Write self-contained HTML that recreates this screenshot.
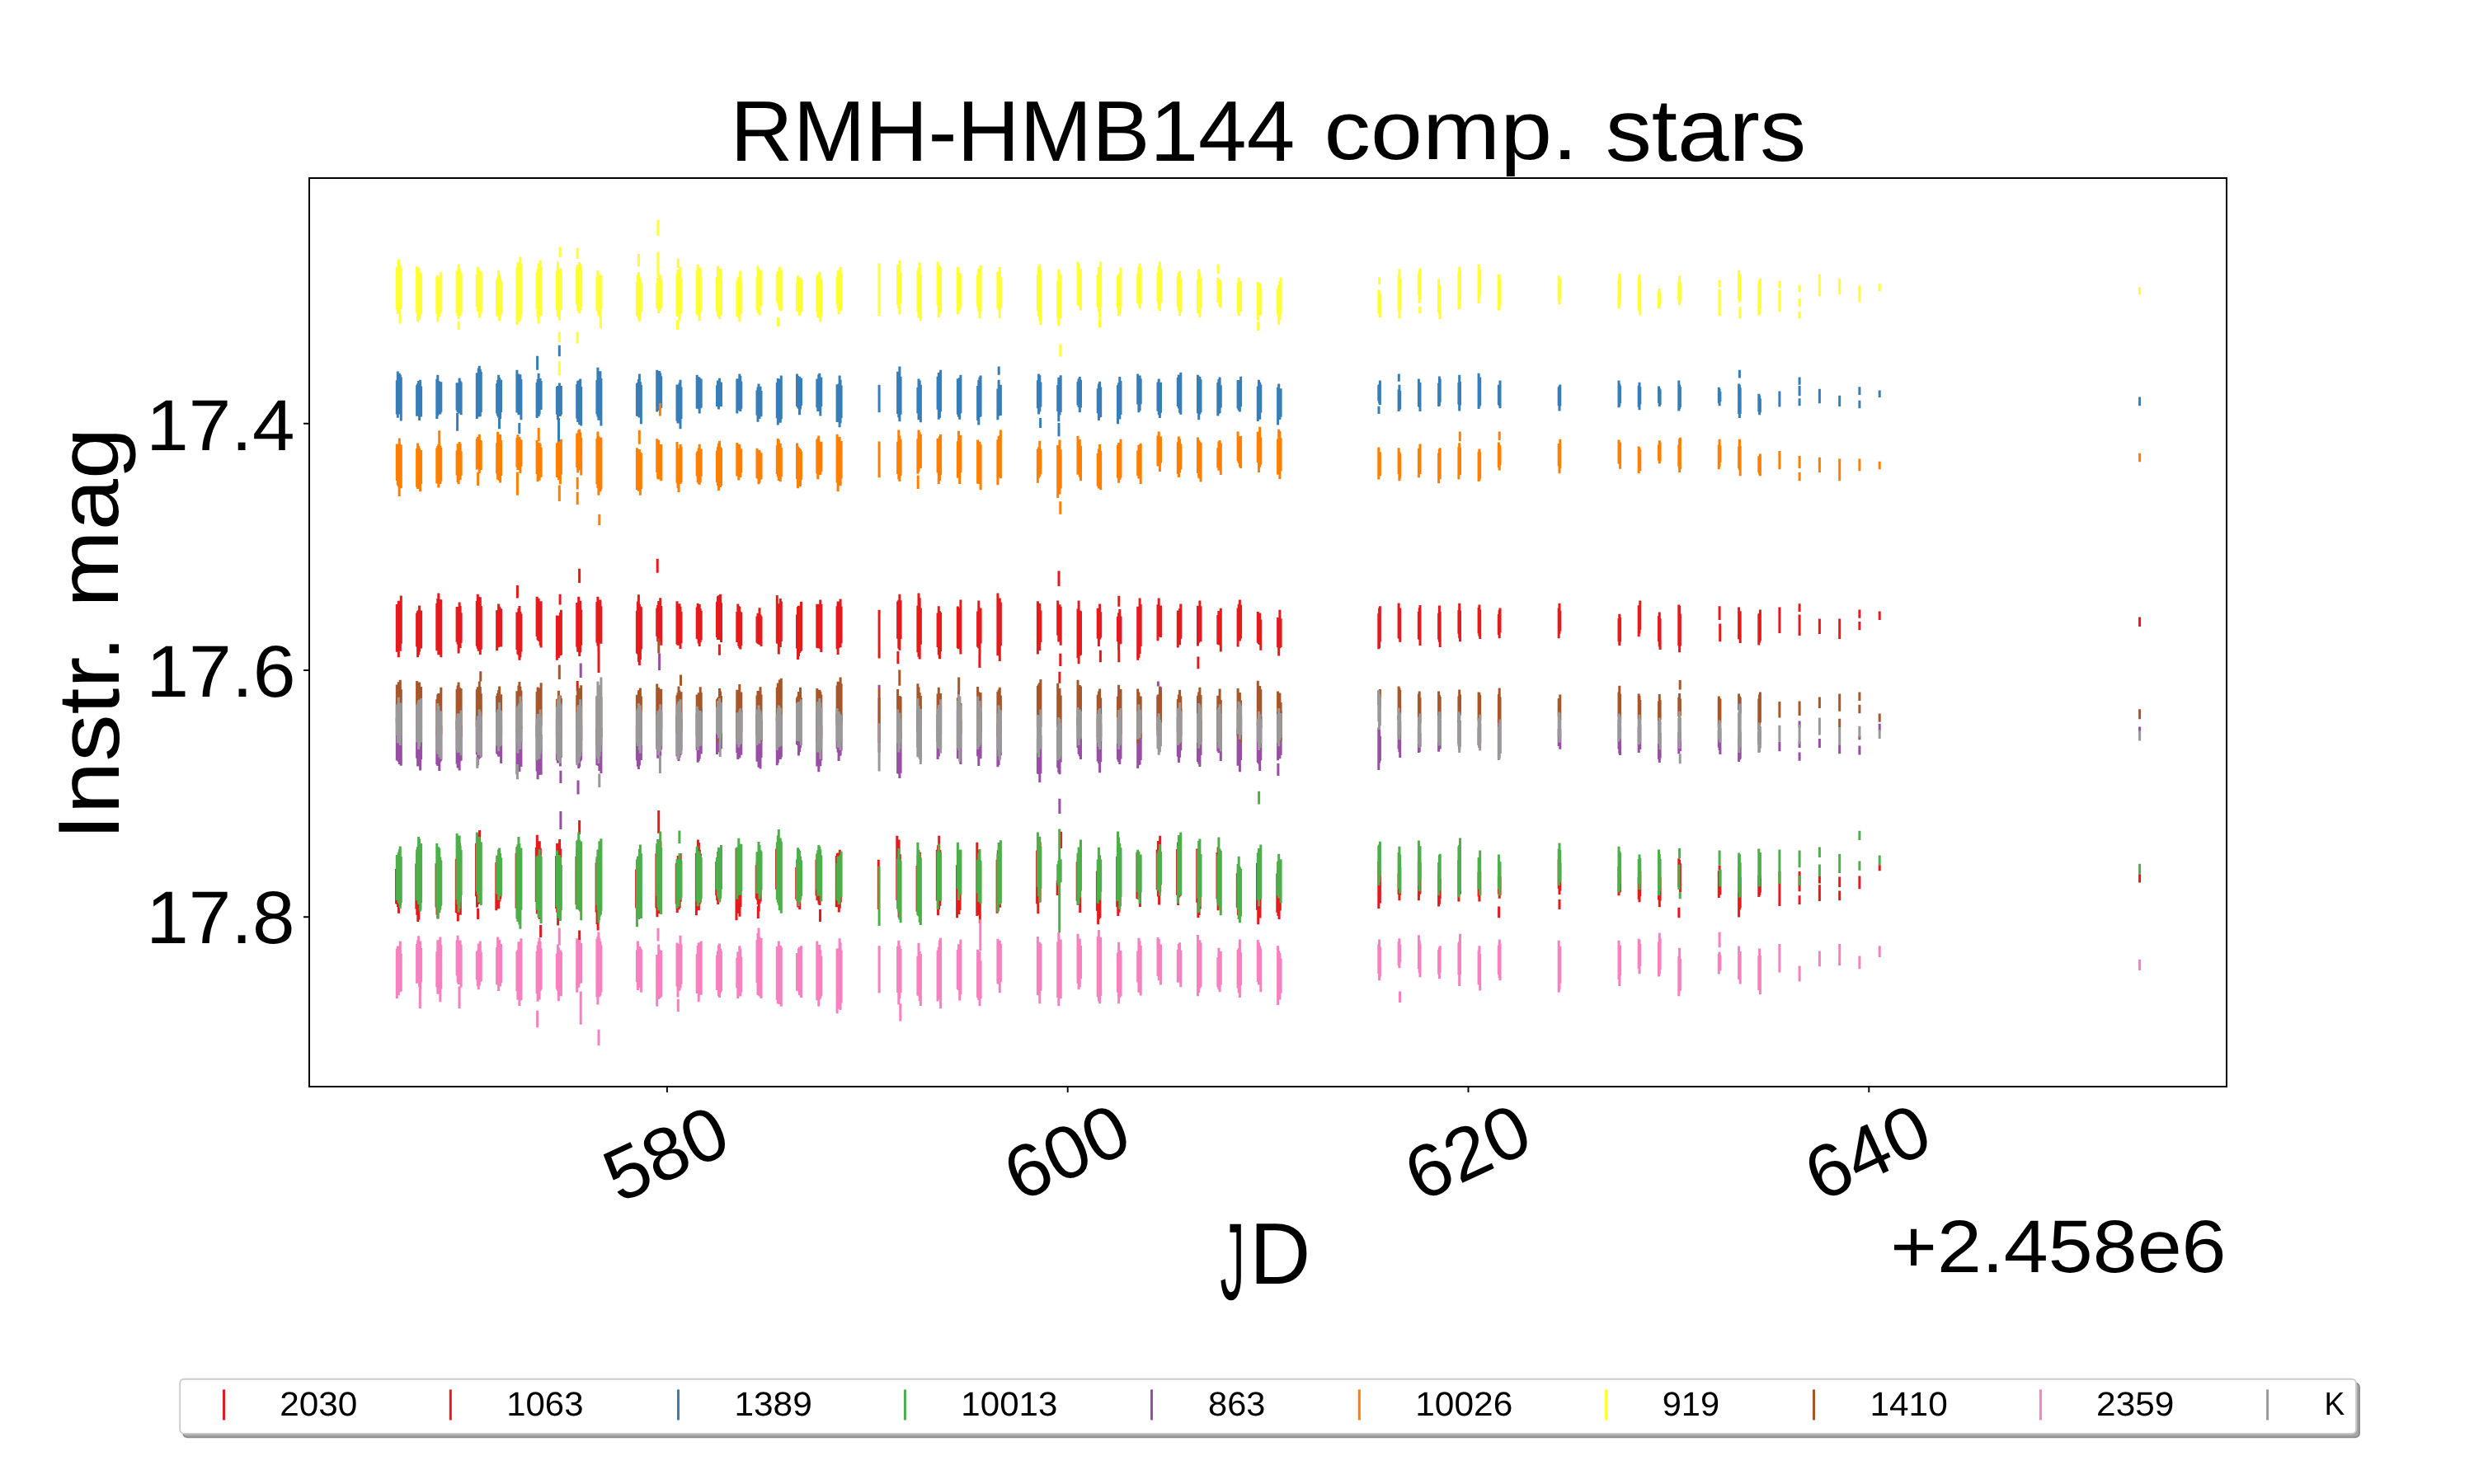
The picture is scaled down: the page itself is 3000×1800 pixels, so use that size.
<!DOCTYPE html>
<html><head><meta charset="utf-8"><title>RMH-HMB144 comp. stars</title>
<style>
html,body{margin:0;padding:0;background:#fff;width:3000px;height:1800px;overflow:hidden}
svg{display:block;position:absolute;left:0;top:0;will-change:transform}
text{font-family:"Liberation Sans",sans-serif;fill:#000;text-rendering:geometricPrecision}
</style></head><body>
<svg width="3000" height="1800" viewBox="0 0 3000 1800">
<rect x="0" y="0" width="3000" height="1800" fill="#fff"/>
<path d="M481.3 733.1V790.7M482.3 733.9V784.2M483.3 728.8V797.2M484.3 732.8V786.5M485.3 732.8V789.7M486.3 722.5V780.7M505.6 743.6V784.5M506.6 741.0V797.2M507.6 740.3V794.3M508.6 734.6V790.6M509.6 743.2V786.1M510.6 740.5V786.4M529.8 731.7V789.3M530.8 726.1V787.9M531.8 719.6V794.2M532.8 727.0V786.1M533.8 734.1V791.7M534.8 727.3V797.2M554.1 735.9V778.8M555.1 736.7V781.4M556.1 737.6V792.4M557.1 730.5V783.7M558.1 735.1V786.0M559.1 743.3V779.7M578.3 729.0V783.8M579.3 720.8V786.8M580.3 723.8V789.7M581.3 730.4V782.6M582.3 724.3V794.1M583.3 735.0V787.8M602.6 740.3V789.2M603.6 742.0V780.2M604.6 732.4V785.3M605.6 735.8V784.6M606.6 737.9V782.6M607.6 738.5V784.6M626.9 742.5V788.0M627.9 745.3V793.6M628.9 738.1V794.7M629.9 734.9V800.8M630.9 741.9V797.2M631.9 744.5V790.5M627.4 709.9V725.6M651.1 723.7V772.1M652.1 729.2V776.3M653.1 725.8V777.2M654.1 733.4V778.1M655.1 733.5V782.8M656.1 729.3V785.6M675.4 746.4V800.8M676.4 746.8V789.5M677.4 749.5V798.0M678.4 748.3V790.9M679.4 742.9V795.1M680.4 739.7V794.5M679.1 720.8V733.4M699.7 731.0V784.8M700.7 736.7V790.7M701.7 723.7V788.9M702.7 728.8V796.0M703.7 728.7V791.2M704.7 739.6V782.8M702.6 689.7V707.0M723.9 730.1V779.4M724.9 723.7V783.6M725.9 733.9V789.9M726.9 730.9V779.7M727.9 727.5V777.3M728.9 735.3V780.7M726.0 788.7V816.1M772.4 740.8V792.6M773.4 729.5V793.5M774.4 721.3V802.7M775.4 732.7V806.9M776.4 735.4V800.1M777.4 736.3V787.4M796.7 737.5V771.7M797.7 734.0V778.3M798.7 728.9V776.0M799.7 730.0V778.2M800.7 725.2V776.0M801.7 735.0V782.7M797.2 677.8V694.8M821.0 729.3V781.5M822.0 734.8V782.7M823.0 735.6V780.6M824.0 732.3V780.3M825.0 735.8V787.0M826.0 742.0V780.3M845.2 736.6V774.7M846.2 731.7V775.6M847.2 736.0V780.6M848.2 733.0V783.9M849.2 738.3V779.0M850.2 740.9V776.2M869.5 729.7V772.9M870.5 723.2V776.1M871.5 722.3V776.1M872.5 723.5V769.7M873.5 720.8V771.2M874.5 731.2V779.0M872.4 781.4V794.8M893.8 741.9V778.9M894.8 732.4V778.5M895.8 735.1V783.7M896.8 736.1V785.9M897.8 742.1V787.5M898.8 742.7V783.0M918.0 747.4V779.6M919.0 743.8V780.7M920.0 745.3V781.0M921.0 737.3V782.0M922.0 745.4V775.5M923.0 747.6V783.9M942.3 722.0V780.6M943.3 732.3V780.7M944.3 734.0V793.6M945.3 733.6V782.4M946.3 725.9V785.1M947.3 729.5V778.1M966.5 745.4V786.6M967.5 736.1V800.1M968.5 734.8V796.0M969.5 740.9V791.9M970.5 740.0V790.2M971.5 729.8V789.5M990.8 732.7V785.8M991.8 739.3V786.3M992.8 737.4V782.2M993.8 732.7V784.1M994.8 727.6V786.9M995.8 733.0V791.1M1015.1 735.3V787.2M1016.1 729.5V794.1M1017.1 734.9V786.1M1018.1 735.0V785.1M1019.1 726.4V785.2M1020.1 735.5V780.3M700.2 825.9V838.5M1066.1 739.7V798.4M1088.6 729.5V774.8M1089.8 727.7V786.4M1090.9 720.8V788.7M1092.1 728.3V775.1M1088.9 789.9V805.2M1112.9 734.8V791.2M1114.0 719.6V796.8M1115.2 725.3V799.6M1116.4 737.6V781.7M1137.1 743.4V785.0M1138.3 735.3V794.4M1139.5 741.3V799.2M1140.6 742.9V790.3M1161.4 735.5V786.3M1162.5 738.4V787.3M1163.7 737.6V785.5M1164.9 727.6V793.6M1185.6 741.4V784.8M1186.8 728.5V786.3M1188.0 737.8V794.8M1189.1 737.5V780.4M1187.9 794.8V810.1M1209.9 719.6V795.3M1211.1 728.4V791.2M1212.3 725.6V802.1M1213.4 730.6V783.3M1258.4 729.3V793.6M1259.6 735.0V784.0M1260.8 732.1V788.9M1261.9 740.6V779.1M1282.7 728.5V770.7M1283.8 736.0V778.4M1285.0 733.2V774.6M1286.2 735.7V782.7M1284.0 692.4V711.1M1285.8 792.8V808.1M1284.9 814.7V828.8M1307.0 738.6V798.3M1308.1 728.5V805.2M1309.3 740.4V795.5M1310.5 741.3V794.4M1331.2 737.7V774.6M1332.4 739.6V783.9M1333.6 732.4V775.5M1334.7 742.3V773.4M1334.4 788.7V803.3M1355.5 747.8V778.2M1356.6 743.2V788.7M1357.8 739.0V781.6M1359.0 747.5V780.9M1356.8 722.7V735.8M1356.8 788.7V803.3M1379.7 735.7V800.8M1380.9 737.7V797.9M1382.1 725.6V793.0M1383.2 733.0V784.1M1404.0 733.3V777.3M1405.2 725.6V772.0M1406.4 734.6V771.3M1407.5 734.4V772.9M1428.3 740.5V785.6M1429.4 741.3V776.4M1430.6 738.1V782.3M1431.8 732.4V774.8M1452.5 734.8V783.4M1453.7 736.7V779.7M1454.9 728.5V774.0M1456.0 735.2V778.3M1452.9 796.5V811.3M1476.8 746.0V781.6M1477.9 741.0V782.1M1479.1 747.1V782.6M1480.3 737.8V790.4M1501.1 737.6V784.4M1502.2 732.8V774.6M1503.4 727.6V777.6M1504.6 733.7V774.6M1525.3 742.1V779.7M1526.5 743.9V781.2M1527.7 743.5V782.0M1528.8 751.4V788.7M1549.6 748.9V785.2M1550.7 749.4V795.5M1551.9 739.7V786.3M1553.1 750.2V785.0M1671.8 744.3V787.3M1672.6 737.4V786.1M1673.4 735.3V778.5M1696.1 731.5V774.2M1696.9 736.9V774.7M1697.7 737.9V778.8M1720.4 742.0V775.2M1721.2 737.3V776.1M1722.0 734.1V783.1M1744.6 743.8V775.5M1745.4 734.6V778.7M1746.2 742.1V785.1M1768.9 740.0V768.8M1769.7 731.7V774.3M1770.5 740.6V778.3M1793.1 736.9V768.4M1793.9 733.4V771.7M1794.7 739.5V775.1M1817.4 744.9V770.0M1818.2 740.1V774.2M1819.0 737.5V767.2M1890.2 737.5V774.2M1891.0 731.7V768.8M1891.8 740.8V765.4M1963.0 750.3V778.3M1963.8 744.8V783.1M1964.6 748.8V778.5M1987.2 734.2V772.2M1988.0 735.3V768.6M1988.8 728.6V763.7M2011.5 747.1V778.2M2012.3 742.6V784.4M2013.1 750.3V788.0M2035.8 733.4V783.2M2036.6 734.7V791.2M2037.4 744.6V783.6M2085.1 735.3V752.1M2085.7 756.5V778.3M2108.6 736.6V775.2M2109.4 741.2V775.4M2110.2 741.5V780.0M2132.8 744.4V782.4M2133.6 744.0V779.5M2134.4 739.5V776.9M2157.9 736.6V768.1M2182.1 745.5V771.0M2182.1 732.2V741.9M2206.4 750.4V769.1M2230.7 750.4V775.1M2254.9 739.5V749.7M2254.9 754.0V764.2M2279.2 741.4V752.1M2594.6 748.5V760.1" stroke="#e41a1c" stroke-width="3" fill="none"/>
<path d="M480.5 1054.1V1096.3M481.5 1045.8V1096.8M482.5 1049.2V1100.0M483.5 1038.6V1107.8M484.5 1046.2V1097.4M485.5 1047.1V1098.2M504.8 1047.4V1102.4M505.8 1034.0V1109.8M506.8 1026.9V1118.0M507.8 1042.0V1115.6M508.8 1034.2V1102.0M509.8 1038.3V1103.4M529.0 1047.3V1100.5M530.0 1049.3V1109.5M531.0 1039.0V1114.6M532.0 1034.9V1103.7M533.0 1049.0V1104.3M534.0 1049.6V1099.3M553.3 1042.0V1107.0M554.3 1039.4V1107.7M555.3 1025.8V1117.5M556.3 1026.4V1107.3M557.3 1022.8V1103.3M558.3 1040.2V1109.8M577.5 1022.7V1087.3M578.5 1012.7V1100.6M579.5 1019.9V1097.0M580.5 1010.6V1096.1M581.5 1007.1V1085.1M582.5 1023.2V1081.8M601.8 1046.1V1104.2M602.8 1048.7V1092.4M603.8 1046.1V1096.8M604.8 1040.5V1102.3M605.8 1052.0V1093.4M606.8 1048.6V1090.5M626.1 1034.8V1101.8M627.1 1026.9V1087.7M628.1 1031.9V1093.8M629.1 1029.9V1094.1M630.1 1034.4V1094.1M631.1 1033.6V1094.4M650.3 1027.7V1094.1M651.3 1012.7V1108.4M652.3 1020.4V1101.7M653.3 1020.8V1098.1M654.3 1020.2V1115.1M655.3 1028.7V1103.4M674.6 1037.9V1102.1M675.6 1022.9V1106.8M676.6 1022.7V1122.4M677.6 1031.5V1109.2M678.6 1018.1V1114.4M679.6 1029.4V1100.1M698.9 1039.1V1097.0M699.9 1028.5V1101.5M700.9 1032.0V1095.2M701.9 1027.9V1098.3M702.9 1033.3V1093.1M703.9 1021.6V1105.4M723.1 1046.6V1106.5M724.1 1041.9V1120.9M725.1 1039.0V1128.5M726.1 1045.3V1116.3M727.1 1029.3V1110.4M728.1 1038.9V1109.2M771.6 1054.6V1101.6M772.6 1042.5V1105.6M773.6 1042.5V1102.2M774.6 1043.6V1115.1M775.6 1045.8V1103.7M776.6 1036.6V1101.5M798.7 982.9V1010.8M795.9 1035.2V1101.4M796.9 1025.0V1112.2M797.9 1028.1V1107.4M798.9 1026.7V1108.3M799.9 1033.9V1099.1M800.9 1020.4V1101.5M820.2 1047.3V1096.4M821.2 1046.3V1107.1M822.2 1037.9V1102.4M823.2 1040.6V1103.3M824.2 1038.7V1101.1M825.2 1035.0V1093.8M844.4 1034.8V1110.3M845.4 1029.1V1095.7M846.4 1018.5V1103.3M847.4 1021.9V1104.3M848.4 1030.8V1096.4M849.4 1035.5V1093.9M868.7 1045.1V1086.3M869.7 1042.6V1092.3M870.7 1039.4V1096.9M871.7 1045.7V1093.3M872.7 1036.9V1093.5M873.7 1048.9V1083.8M893.0 1028.8V1116.3M894.0 1035.4V1107.8M895.0 1031.2V1106.4M896.0 1041.7V1107.7M897.0 1034.4V1111.7M898.0 1036.6V1100.0M917.2 1049.3V1089.7M918.2 1045.4V1091.8M919.2 1045.0V1097.0M920.2 1033.0V1105.4M921.2 1043.3V1095.8M922.2 1042.0V1093.4M941.5 1029.6V1078.8M942.5 1025.3V1086.6M943.5 1021.5V1090.8M944.5 1017.9V1088.0M945.5 1030.4V1085.0M946.5 1024.8V1079.2M965.7 1052.0V1090.8M966.7 1043.9V1091.0M967.7 1048.4V1100.6M968.7 1049.5V1097.9M969.7 1040.3V1103.0M970.7 1050.6V1090.7M990.0 1042.8V1086.5M991.0 1036.9V1092.2M992.0 1046.0V1089.4M993.0 1045.0V1096.6M994.0 1041.8V1098.1M995.0 1046.5V1088.4M1014.3 1038.0V1100.3M1015.3 1035.1V1094.3M1016.3 1034.5V1098.6M1017.3 1035.7V1106.6M1018.3 1030.7V1101.8M1019.3 1046.7V1094.4M579.6 1101.8V1115.1M655.6 1121.9V1136.9M702.6 995.0V1012.0M702.6 1128.5V1146.7M919.3 1099.3V1113.9M994.5 1103.0V1118.0M702.7 1128.6V1146.8M1065.3 1042.8V1103.0M1087.8 1013.7V1091.9M1089.0 1021.3V1102.6M1090.1 1018.5V1112.7M1091.3 1036.3V1092.8M1112.1 1049.9V1105.8M1113.2 1037.0V1104.8M1114.4 1042.8V1111.2M1115.6 1033.7V1115.1M1136.3 1030.7V1092.5M1137.5 1025.2V1110.3M1138.7 1013.7V1103.1M1139.8 1031.0V1098.8M1160.6 1049.3V1113.2M1161.7 1039.4V1107.1M1162.9 1033.7V1108.9M1164.1 1047.6V1103.9M1184.8 1021.7V1111.1M1186.0 1036.2V1109.7M1187.2 1031.0V1104.7M1188.3 1043.4V1120.0M1209.1 1042.8V1107.8M1210.3 1031.3V1105.0M1211.5 1042.0V1096.9M1212.6 1042.4V1100.7M1257.6 1031.6V1096.3M1258.8 1034.4V1108.3M1260.0 1028.6V1094.4M1261.1 1021.6V1094.2M1286.6 1008.8V1029.0M1282.2 1067.8V1086.0M1306.2 1045.4V1092.8M1307.3 1043.1V1097.9M1308.5 1029.7V1096.5M1309.7 1045.8V1107.1M1330.4 1056.6V1104.7M1331.6 1045.2V1121.2M1332.8 1039.8V1114.7M1333.9 1050.9V1113.3M1354.7 1038.7V1100.3M1355.8 1020.4V1111.0M1357.0 1034.2V1106.7M1358.2 1034.9V1099.2M1378.9 1033.8V1090.1M1380.1 1040.2V1090.8M1381.3 1043.9V1091.0M1382.4 1042.7V1100.1M1403.2 1030.5V1078.9M1404.4 1019.9V1087.4M1405.6 1027.2V1097.6M1406.7 1013.7V1081.7M1427.5 1030.1V1085.8M1428.6 1021.6V1098.1M1429.8 1033.6V1088.5M1431.0 1034.2V1086.7M1451.7 1029.6V1094.7M1452.9 1041.1V1113.2M1454.1 1039.8V1109.9M1455.2 1041.5V1102.4M1476.0 1034.0V1090.6M1477.1 1027.6V1104.2M1478.3 1036.2V1101.5M1479.5 1034.4V1092.3M1500.3 1059.2V1100.9M1501.4 1056.5V1110.3M1502.6 1050.7V1105.6M1503.8 1061.9V1098.8M1524.5 1046.8V1103.8M1525.7 1050.6V1121.2M1526.9 1050.9V1113.3M1528.0 1036.6V1113.5M1548.8 1059.4V1106.7M1549.9 1051.2V1111.1M1551.1 1050.5V1115.1M1552.3 1047.8V1104.6M1671.8 1044.9V1101.9M1672.6 1048.6V1094.7M1673.4 1055.7V1095.6M1696.1 1059.3V1085.1M1696.9 1053.1V1092.2M1697.7 1052.2V1085.4M1720.4 1045.2V1092.2M1721.2 1040.1V1085.0M1722.0 1046.6V1083.8M1744.6 1057.0V1099.5M1745.4 1064.2V1096.8M1746.2 1065.4V1090.3M1768.9 1043.2V1093.4M1769.7 1040.7V1084.1M1770.5 1032.8V1084.4M1793.1 1057.9V1087.4M1793.9 1052.2V1093.4M1794.7 1057.5V1086.1M1817.4 1062.2V1084.4M1818.2 1057.0V1089.8M1819.0 1062.9V1085.9M1817.6 1099.5V1113.3M1890.2 1042.5V1077.7M1891.0 1045.6V1084.9M1891.8 1047.0V1080.6M1891.0 1091.0V1103.1M1963.0 1051.0V1086.2M1963.8 1051.9V1083.1M1964.6 1058.6V1081.8M1987.2 1064.0V1090.8M1988.0 1062.9V1094.2M1988.8 1057.0V1087.2M2011.5 1057.0V1091.6M2012.3 1058.5V1100.2M2013.1 1063.8V1092.6M2035.8 1041.3V1076.0M2036.6 1042.9V1076.6M2037.4 1047.2V1082.5M2035.9 1100.7V1113.3M2084.3 1056.2V1089.1M2085.1 1049.8V1084.4M2085.9 1054.7V1085.6M2108.6 1051.0V1112.4M2109.4 1054.2V1103.4M2110.2 1063.8V1101.2M2132.8 1062.2V1088.1M2133.6 1057.0V1086.0M2134.4 1062.1V1082.6M2157.9 1057.0V1099.0M2182.1 1057.0V1081.3M2182.1 1086.2V1097.1M2206.4 1063.1V1071.6M2206.4 1073.3V1093.0M2230.7 1063.6V1076.0M2230.7 1080.6V1092.2M2254.9 1062.6V1078.2M2279.2 1049.3V1056.3M2594.6 1060.2V1070.4" stroke="#e41a1c" stroke-width="3" fill="none"/>
<path d="M481.3 461.2V502.4M482.3 450.6V506.8M483.3 456.1V502.5M484.3 452.8V501.2M485.3 454.6V502.0M486.3 457.4V510.5M505.6 467.2V504.7M506.6 465.2V502.7M507.6 462.0V504.8M508.6 465.1V510.0M509.6 460.8V503.4M510.6 468.5V505.6M529.8 459.7V508.1M530.8 454.7V504.4M531.8 462.0V500.3M532.8 462.7V501.5M533.8 464.5V502.6M534.8 463.3V499.7M554.1 464.2V497.8M555.1 465.6V500.1M556.1 465.4V500.4M557.1 458.4V501.6M558.1 462.0V497.3M559.1 463.4V503.2M554.6 500.8V522.7M578.3 452.2V508.1M579.3 455.4V502.8M580.3 446.5V501.6M581.3 443.8V505.6M582.3 448.0V504.9M583.3 450.9V499.9M602.6 465.1V501.5M603.6 460.9V504.5M604.6 454.7V506.8M605.6 457.9V506.8M606.6 462.8V508.1M607.6 460.5V500.0M605.5 506.9V520.2M626.9 448.7V500.5M627.9 455.7V499.2M628.9 453.6V503.3M629.9 456.3V499.0M630.9 454.3V499.2M631.9 459.9V509.3M629.8 512.9V526.3M651.1 463.9V506.9M652.1 460.1V497.5M653.1 452.8V505.2M654.1 459.4V502.6M655.1 459.1V496.8M656.1 462.0V496.9M651.6 431.7V448.7M675.4 469.1V502.7M676.4 468.1V509.3M677.4 472.0V504.6M678.4 464.4V501.8M679.4 468.4V505.0M680.4 468.0V503.1M678.3 418.8V432.2M677.5 506.9V538.4M699.7 465.9V507.7M700.7 462.0V512.0M701.7 461.6V511.9M702.7 461.2V515.1M703.7 459.6V512.2M704.7 469.1V516.6M723.9 460.9V502.6M724.9 445.7V505.5M725.9 455.0V509.7M726.9 450.3V508.4M727.9 450.2V504.9M728.9 459.0V516.6M772.4 464.7V504.7M773.4 464.3V504.8M774.4 460.0V505.4M775.4 453.5V506.6M776.4 463.3V505.2M777.4 467.1V514.2M796.7 448.7V499.6M797.7 458.1V494.6M798.7 453.2V498.1M799.7 449.9V494.4M800.7 452.6V495.5M801.7 456.2V495.0M821.0 466.4V510.8M822.0 469.9V513.5M823.0 469.3V511.4M824.0 464.2V512.2M825.0 460.8V520.2M826.0 469.6V507.9M845.2 454.7V495.8M846.2 457.0V495.2M847.2 457.2V496.3M848.2 458.1V501.5M849.2 461.5V495.2M850.2 459.4V494.4M869.5 467.3V492.9M870.5 461.6V492.1M871.5 463.7V496.4M872.5 458.8V491.3M873.5 466.0V491.8M874.5 463.6V493.0M893.8 459.4V501.5M894.8 459.2V492.4M895.8 461.7V497.7M896.8 453.5V493.8M897.8 456.0V498.9M898.8 462.7V495.8M918.0 473.5V503.7M919.0 469.5V511.7M920.0 465.6V507.3M921.0 472.7V508.0M922.0 468.7V503.2M923.0 474.0V505.2M942.3 464.0V507.2M943.3 459.0V515.4M944.3 459.7V511.0M945.3 460.4V505.6M946.3 459.7V512.8M947.3 455.4V508.3M966.5 453.5V492.8M967.5 456.1V494.3M968.5 460.3V495.8M969.5 456.7V503.2M970.5 460.5V496.4M971.5 458.6V492.0M990.8 459.4V494.3M991.8 461.0V499.0M992.8 454.2V497.4M993.8 452.8V496.5M994.8 459.2V504.5M995.8 457.5V493.1M1015.1 466.3V512.0M1016.1 466.3V511.1M1017.1 465.4V511.7M1018.1 455.4V518.3M1019.1 460.7V513.3M1020.1 467.4V507.1M1066.1 466.8V500.3M1088.6 450.7V502.1M1089.8 453.0V506.5M1090.9 444.5V511.2M1092.1 456.7V502.8M1112.9 470.1V501.2M1114.0 459.6V509.2M1115.2 461.4V506.6M1116.4 466.7V512.2M1137.1 456.8V496.8M1138.3 452.1V508.8M1139.5 455.3V506.7M1140.6 448.7V499.2M1161.4 459.3V502.7M1162.5 459.7V505.7M1163.7 457.9V508.8M1164.9 454.7V501.2M1185.6 468.1V510.1M1186.8 461.0V515.4M1188.0 457.5V506.0M1189.1 455.4V505.2M1209.9 471.4V509.3M1211.1 460.8V504.4M1212.3 467.0V503.1M1213.4 466.8V503.9M1211.2 444.5V454.7M1258.4 461.2V495.2M1259.6 453.5V502.5M1260.8 455.2V499.5M1261.9 463.6V493.4M1261.6 506.9V519.0M1282.7 467.0V499.0M1283.8 457.8V511.2M1285.0 460.5V503.4M1286.2 455.2V500.1M1284.0 512.9V529.2M1307.0 462.7V491.4M1308.1 459.3V494.0M1309.3 457.1V500.3M1310.5 460.8V494.4M1331.2 471.2V501.3M1332.4 465.4V510.0M1333.6 462.7V506.4M1334.7 469.4V506.0M1355.5 467.3V514.2M1356.6 464.3V508.1M1357.8 457.1V508.4M1359.0 461.9V502.9M1379.7 453.5V490.5M1380.9 459.0V500.3M1382.1 455.4V498.1M1383.2 459.2V490.3M1404.0 463.6V498.8M1405.2 459.6V503.2M1406.4 467.6V506.9M1407.5 463.7V500.7M1428.3 457.8V493.0M1429.4 454.6V495.4M1430.6 455.5V500.8M1431.8 451.8V502.8M1452.5 454.7V501.2M1453.7 456.5V509.3M1454.9 457.0V502.5M1456.0 460.2V500.2M1476.8 464.0V504.5M1477.9 460.0V502.0M1479.1 457.6V500.9M1480.3 467.3V494.6M1501.1 461.1V495.6M1502.2 463.5V497.7M1503.4 461.0V499.6M1504.6 456.7V493.2M1525.3 468.6V511.0M1526.5 460.8V506.6M1527.7 463.7V508.7M1528.8 466.6V500.4M1549.6 469.7V515.4M1550.7 465.6V508.1M1551.9 471.2V508.9M1553.1 471.3V505.8M1671.8 467.0V486.6M1672.6 466.2V489.6M1673.4 461.5V491.1M1672.0 492.8V502.0M1696.1 472.4V499.1M1696.9 466.8V497.3M1697.7 474.1V496.2M1696.3 453.5V462.7M1720.4 459.6V492.9M1721.2 464.3V493.9M1722.0 464.1V499.1M1744.6 464.8V493.1M1745.4 456.4V492.3M1746.2 459.6V487.8M1768.9 464.1V490.4M1769.7 454.7V498.4M1770.5 462.9V491.4M1793.1 452.8V496.0M1793.9 459.5V493.6M1794.7 457.6V491.7M1817.4 466.8V490.9M1818.2 467.1V492.5M1819.0 461.5V495.2M1890.2 469.5V492.2M1891.0 468.3V498.4M1891.8 466.4V492.6M1963.0 461.5V494.3M1963.8 465.4V492.8M1964.6 467.7V488.9M1987.2 467.7V493.8M1988.0 463.7V497.2M1988.8 469.3V490.5M2011.5 468.5V489.0M2012.3 471.1V493.1M2013.1 472.5V491.0M2035.8 461.5V498.4M2036.6 466.4V496.3M2037.4 469.0V494.1M2084.3 469.8V489.1M2085.1 471.8V492.3M2085.9 474.9V487.2M2108.6 465.6V502.1M2109.4 466.7V506.9M2110.2 470.2V502.0M2109.4 448.7V458.4M2132.8 477.8V499.6M2133.6 479.5V503.2M2134.4 483.4V500.3M2157.9 474.6V493.5M2182.1 468.1V480.2M2182.1 457.6V466.8M2182.1 483.3V492.3M2206.4 471.7V489.2M2230.7 479.7V493.1M2254.9 469.3V479.0M2254.9 485.8V495.2M2279.2 473.4V482.1M2594.6 481.4V492.3" stroke="#377eb8" stroke-width="3" fill="none"/>
<path d="M481.3 1036.9V1092.1M482.3 1038.6V1089.1M483.3 1033.9V1095.1M484.3 1030.3V1096.7M485.3 1026.6V1101.8M486.3 1039.1V1094.8M505.6 1030.6V1092.2M506.6 1029.9V1091.8M507.6 1014.9V1097.1M508.6 1017.5V1094.2M509.6 1024.8V1105.4M510.6 1023.1V1095.1M529.8 1022.9V1101.6M530.8 1027.7V1113.9M531.8 1027.3V1102.9M532.8 1029.0V1107.2M533.8 1039.5V1103.2M534.8 1043.4V1098.0M554.1 1010.8V1091.0M555.1 1028.0V1096.9M556.1 1014.3V1106.6M557.1 1013.4V1102.0M558.1 1025.8V1094.5M559.1 1031.0V1086.1M578.3 1009.6V1080.8M579.3 1017.5V1084.9M580.3 1016.3V1093.9M581.3 1015.1V1094.8M582.3 1025.3V1086.7M583.3 1021.3V1098.1M602.6 1037.6V1084.6M603.6 1039.6V1080.1M604.6 1030.6V1092.1M605.6 1028.5V1085.1M606.6 1035.1V1085.6M607.6 1040.4V1086.8M626.9 1028.0V1114.6M627.9 1024.3V1118.1M628.9 1014.9V1113.1M629.9 1023.1V1121.6M630.9 1031.4V1126.8M631.9 1028.4V1103.8M651.1 1039.1V1103.3M652.1 1037.4V1104.1M653.1 1040.1V1113.0M654.1 1030.2V1109.8M655.1 1036.8V1104.5M656.1 1039.0V1120.0M675.4 1031.4V1099.9M676.4 1044.7V1111.0M677.4 1042.6V1114.0M678.4 1037.0V1104.6M679.4 1040.1V1117.1M680.4 1049.1V1104.2M699.7 1019.7V1103.1M700.7 1018.4V1102.1M701.7 1009.6V1103.1M702.7 1018.4V1104.2M703.7 1020.9V1099.8M704.7 1020.6V1116.3M723.9 1039.3V1097.7M724.9 1030.5V1104.4M725.9 1034.5V1119.2M726.9 1020.2V1112.1M727.9 1033.5V1109.7M728.9 1017.3V1104.7M772.4 1042.7V1124.3M773.4 1038.8V1107.5M774.4 1038.5V1114.8M775.4 1029.7V1107.9M776.4 1024.6V1111.8M777.4 1035.2V1113.9M796.7 1023.1V1086.9M797.7 1017.9V1100.3M798.7 1024.0V1104.6M799.7 1019.1V1101.8M800.7 1008.4V1096.6M801.7 1027.9V1109.0M821.0 1042.0V1101.8M822.0 1043.5V1096.1M823.0 1042.1V1099.8M824.0 1035.0V1090.5M825.0 1042.7V1091.5M826.0 1043.7V1089.0M845.2 1026.6V1093.2M846.2 1033.9V1099.3M847.2 1032.2V1087.2M848.2 1033.9V1087.9M849.2 1037.0V1095.2M850.2 1040.2V1090.1M869.5 1039.9V1079.0M870.5 1032.9V1086.4M871.5 1028.1V1089.8M872.5 1032.5V1094.5M873.5 1034.9V1089.9M874.5 1024.9V1078.8M893.8 1027.6V1090.8M894.8 1029.1V1077.7M895.8 1016.8V1085.9M896.8 1023.4V1082.9M897.8 1023.8V1085.6M898.8 1023.7V1081.3M918.0 1033.4V1083.8M919.0 1033.0V1082.4M920.0 1021.0V1080.4M921.0 1024.9V1090.8M922.0 1031.1V1086.4M923.0 1032.6V1079.4M942.3 1021.6V1091.2M943.3 1013.6V1094.8M944.3 1005.9V1097.7M945.3 1017.2V1104.3M946.3 1016.4V1102.5M947.3 1020.8V1107.8M966.5 1042.2V1093.0M967.5 1028.3V1092.4M968.5 1030.0V1099.3M969.5 1032.1V1094.6M970.5 1038.8V1091.8M971.5 1043.4V1087.0M990.8 1035.3V1079.4M991.8 1031.3V1086.8M992.8 1024.9V1085.6M993.8 1026.7V1082.4M994.8 1030.2V1086.8M995.8 1037.5V1093.3M1015.1 1046.9V1091.6M1016.1 1038.6V1092.8M1017.1 1038.9V1096.9M1018.1 1041.8V1095.1M1019.1 1037.1V1086.3M1020.1 1032.6V1088.0M823.9 1007.6V1022.9M1066.1 1050.8V1122.9M1088.6 1041.4V1102.3M1089.8 1029.0V1106.0M1090.9 1042.3V1115.5M1092.1 1044.1V1119.2M1112.9 1021.7V1110.0M1114.0 1030.8V1111.2M1115.2 1035.3V1118.7M1116.4 1040.6V1121.9M1137.1 1032.5V1103.0M1138.3 1023.4V1092.3M1139.5 1037.0V1091.3M1140.6 1033.5V1092.8M1161.4 1021.7V1078.1M1162.5 1031.2V1092.1M1163.7 1030.8V1085.1M1164.9 1030.6V1085.6M1185.6 1042.8V1083.6M1186.8 1034.6V1093.9M1188.0 1029.7V1093.5M1189.1 1044.2V1096.2M1209.9 1035.6V1106.6M1211.1 1022.1V1092.3M1212.3 1030.4V1097.3M1213.4 1019.3V1095.5M1258.4 1009.6V1075.7M1259.6 1021.0V1087.3M1260.8 1014.8V1094.5M1261.9 1026.7V1078.0M1284.7 1005.4V1130.9M1282.7 1048.3V1070.7M1283.8 1044.1V1073.9M1285.0 1043.7V1069.2M1286.2 1042.3V1070.2M1307.0 1034.7V1098.1M1308.1 1027.6V1095.9M1309.3 1029.8V1088.7M1310.5 1018.5V1080.4M1331.2 1042.5V1095.7M1332.4 1027.8V1084.8M1333.6 1037.3V1091.4M1334.7 1042.6V1082.1M1355.5 1008.4V1093.0M1356.6 1015.5V1089.4M1357.8 1023.1V1103.0M1359.0 1028.3V1087.7M1379.7 1030.7V1082.1M1380.9 1032.7V1090.8M1382.1 1038.5V1096.2M1383.2 1036.4V1082.5M1404.0 1034.5V1080.5M1405.2 1031.3V1077.0M1406.4 1024.1V1086.5M1407.5 1033.0V1073.3M1428.3 1025.7V1095.7M1429.4 1013.1V1086.6M1430.6 1022.5V1083.2M1431.8 1009.6V1085.9M1452.5 1031.3V1089.8M1453.7 1020.1V1107.1M1454.9 1017.6V1099.6M1456.0 1035.9V1087.9M1476.8 1036.4V1094.7M1477.9 1015.6V1098.7M1479.1 1029.6V1101.7M1480.3 1031.8V1110.3M1501.1 1047.9V1102.9M1502.2 1038.7V1114.9M1503.4 1051.4V1119.2M1504.6 1053.8V1111.5M1525.3 1034.2V1091.4M1526.5 1029.1V1099.3M1527.7 1031.2V1089.2M1528.8 1024.6V1090.8M1549.6 1044.8V1086.5M1550.7 1035.8V1089.3M1551.9 1045.8V1089.4M1553.1 1042.3V1095.2M1526.6 959.8V975.6M1671.8 1025.7V1074.0M1672.6 1024.4V1070.0M1673.4 1020.7V1063.1M1696.1 1033.9V1077.1M1696.9 1026.7V1078.2M1697.7 1036.4V1083.7M1720.4 1019.4V1074.0M1721.2 1028.2V1081.3M1722.0 1026.3V1067.1M1744.6 1045.9V1086.2M1745.4 1037.3V1078.6M1746.2 1035.7V1080.2M1768.9 1026.6V1088.6M1769.7 1025.0V1083.9M1770.5 1016.5V1080.8M1793.1 1040.3V1078.4M1793.9 1040.0V1077.2M1794.7 1031.6V1086.2M1817.4 1036.4V1078.0M1818.2 1044.7V1086.2M1819.0 1045.3V1079.2M1890.2 1029.7V1074.0M1891.0 1022.6V1070.4M1891.8 1031.0V1069.6M1963.0 1026.7V1082.5M1963.8 1032.5V1080.0M1964.6 1034.2V1071.5M1987.2 1041.9V1071.7M1988.0 1036.4V1078.9M1988.8 1041.0V1072.0M2011.5 1030.4V1086.2M2012.3 1035.9V1081.0M2013.1 1042.1V1077.3M2036.6 1028.7V1041.3M2035.9 1048.6V1078.9M2037.2 1082.5V1090.3M2085.1 1031.6V1049.8M2085.7 1054.6V1075.2M2108.6 1034.5V1081.9M2109.4 1036.2V1088.6M2110.2 1046.3V1076.6M2132.8 1029.6V1068.6M2133.6 1034.9V1075.2M2134.4 1033.9V1065.1M2157.9 1030.4V1072.3M2182.1 1031.6V1052.2M2182.1 1061.9V1074.0M2206.4 1027.4V1040.1M2206.4 1048.6V1063.1M2230.7 1035.7V1059.0M2254.9 1044.4V1055.8M2254.9 1007.8V1019.0M2279.2 1037.6V1049.3M2594.6 1047.8V1060.2" stroke="#4daf4a" stroke-width="3" fill="none"/>
<path d="M481.3 870.9V922.5M482.3 866.5V918.5M483.3 866.3V924.1M484.3 868.5V927.1M485.3 868.1V923.2M486.3 862.8V928.8M505.6 876.2V919.7M506.6 873.9V929.5M507.6 868.4V927.9M508.6 870.9V926.6M509.6 871.9V934.4M510.6 880.5V921.3M529.8 881.2V927.3M530.8 874.1V929.0M531.8 876.9V926.7M532.8 869.1V935.1M533.8 879.3V924.2M534.8 880.5V922.6M554.1 873.9V926.5M555.1 878.4V931.6M556.1 868.4V924.4M557.1 876.8V934.4M558.1 877.5V923.2M559.1 880.3V922.6M578.3 869.2V915.3M579.3 874.4V928.3M580.3 864.8V921.1M581.3 869.1V919.7M582.3 862.3V919.2M583.3 875.8V917.8M602.6 859.9V914.2M603.6 869.7V915.1M604.6 862.8V917.8M605.6 869.6V916.5M606.6 866.7V913.3M607.6 872.7V925.9M626.9 885.0V939.2M627.9 876.7V933.6M628.9 880.7V932.0M629.9 883.1V935.9M630.9 873.2V928.7M631.9 880.6V929.9M651.1 879.3V935.4M652.1 887.6V945.3M653.1 889.1V940.1M654.1 884.9V934.3M655.1 882.8V936.2M656.1 890.9V939.7M675.4 872.2V922.2M676.4 871.1V925.6M677.4 863.5V921.0M678.4 866.2V918.4M679.4 867.1V929.5M680.4 872.7V918.7M699.7 865.9V925.3M700.7 871.7V922.2M701.7 875.9V931.9M702.7 867.8V930.3M703.7 874.3V923.5M704.7 880.3V921.7M723.9 882.9V928.3M724.9 882.1V926.1M725.9 872.0V929.1M726.9 880.4V935.1M727.9 882.3V932.4M728.9 882.8V938.0M772.4 880.2V922.3M773.4 872.8V929.8M774.4 878.3V933.1M775.4 867.1V928.4M776.4 875.9V920.7M777.4 880.7V921.9M796.7 866.9V907.4M797.7 866.3V919.8M798.7 855.9V914.4M799.7 853.8V909.2M800.7 862.4V917.0M801.7 862.9V909.2M821.0 867.4V917.5M822.0 860.0V910.4M823.0 857.0V923.0M824.0 864.0V918.9M825.0 867.4V916.0M826.0 871.6V910.1M845.2 865.6V910.1M846.2 870.7V924.7M847.2 865.6V922.9M848.2 869.2V920.6M849.2 866.5V914.6M850.2 858.7V914.6M869.5 863.4V914.9M870.5 851.9V911.5M871.5 860.1V910.3M872.5 848.9V912.3M873.5 855.3V908.9M874.5 861.5V907.9M893.8 861.3V912.9M894.8 855.0V921.0M895.8 863.7V916.6M896.8 866.2V919.4M897.8 865.8V914.9M898.8 861.7V915.7M918.0 866.4V923.8M919.0 877.5V921.1M920.0 872.8V930.8M921.0 876.9V926.2M922.0 877.8V932.4M923.0 873.5V918.9M942.3 870.7V928.3M943.3 862.3V925.4M944.3 872.9V919.5M945.3 866.4V918.5M946.3 871.3V921.0M947.3 869.9V918.6M966.5 863.0V903.0M967.5 850.6V904.1M968.5 855.3V916.6M969.5 857.7V912.0M970.5 854.8V907.2M971.5 859.4V902.7M990.8 870.3V929.4M991.8 873.6V924.1M992.8 880.9V936.3M993.8 872.6V929.0M994.8 882.3V929.2M995.8 880.6V922.3M1015.1 865.1V907.9M1016.1 862.6V912.6M1017.1 860.0V923.0M1018.1 857.0V917.1M1019.1 860.3V916.4M1020.1 866.6V910.4M679.9 934.8V950.1M679.9 984.1V1005.9M704.2 804.6V822.0M701.0 946.5V963.5M799.6 792.4V813.0M1066.1 846.5V912.5M1088.6 886.4V938.3M1089.8 881.6V938.8M1090.9 878.1V944.1M1092.1 887.8V937.8M1112.9 861.9V906.9M1114.0 861.1V917.9M1115.2 857.9V912.0M1116.4 855.0V921.0M1137.1 865.9V921.0M1138.3 865.3V917.6M1139.5 863.3V910.7M1140.6 855.0V908.6M1161.4 861.1V920.3M1162.5 863.0V917.8M1163.7 863.9V915.7M1164.9 873.4V927.1M1185.6 869.5V917.3M1186.8 866.9V929.0M1188.0 865.9V917.6M1189.1 863.0V920.3M1209.9 878.6V930.2M1211.1 864.2V928.1M1212.3 872.8V920.0M1213.4 873.8V916.3M1258.4 896.1V938.4M1259.6 882.9V939.0M1260.8 887.8V948.9M1261.9 891.8V938.3M1282.7 885.9V931.5M1283.8 873.2V937.2M1285.0 881.8V939.2M1286.2 881.1V924.4M1307.0 870.1V907.0M1308.1 855.0V914.7M1309.3 860.0V917.2M1310.5 864.1V921.0M1331.2 871.3V923.6M1332.4 874.3V926.0M1333.6 876.7V937.3M1334.7 877.9V924.2M1355.5 868.7V921.5M1356.6 867.2V924.1M1357.8 867.4V927.1M1359.0 861.1V920.6M1379.7 873.6V931.9M1380.9 876.3V928.0M1382.1 868.5V927.5M1383.2 865.9V922.1M1404.0 844.9V892.5M1405.2 842.9V899.2M1406.4 842.3V888.9M1407.5 833.2V885.0M1428.3 870.6V917.7M1429.4 869.2V925.1M1430.6 870.8V918.8M1431.8 859.1V910.3M1452.5 878.0V924.1M1453.7 864.0V926.5M1454.9 871.6V930.0M1456.0 873.3V915.9M1476.8 857.0V911.2M1477.9 864.5V913.2M1479.1 867.6V911.6M1480.3 864.1V923.0M1501.1 883.4V928.7M1502.2 876.3V925.0M1503.4 874.1V936.3M1504.6 870.3V922.1M1525.3 876.1V925.0M1526.5 871.0V926.6M1527.7 872.5V935.1M1528.8 869.1V922.2M1549.6 863.2V922.2M1550.7 856.2V912.7M1551.9 860.4V920.2M1553.1 862.3V916.1M1066.1 830.8V834.9M1284.9 968.8V987.0M1404.4 826.4V832.5M1549.9 925.9V940.9M1671.8 882.6V934.1M1672.6 885.2V925.5M1673.4 892.8V922.7M1696.1 868.1V908.6M1696.9 873.4V912.2M1697.7 874.9V919.0M1720.4 882.6V912.9M1721.2 886.0V912.2M1722.0 889.3V906.1M1744.6 877.6V911.7M1745.4 874.7V906.1M1746.2 872.9V908.5M1768.9 872.9V901.9M1769.7 876.1V909.3M1770.5 876.8V904.7M1793.1 882.7V904.0M1793.9 880.0V906.9M1794.7 877.8V901.4M1817.4 872.9V919.0M1818.2 875.9V913.0M1819.0 877.2V913.9M1890.2 884.0V905.0M1891.0 877.8V904.4M1891.8 883.7V908.8M1963.0 872.9V908.5M1963.8 879.3V914.1M1964.6 880.9V915.9M1987.2 881.8V912.9M1988.0 872.9V906.4M1988.8 879.2V908.9M2011.5 886.3V921.1M2012.3 882.6V925.1M2013.1 889.0V919.5M2035.8 888.1V914.2M2036.6 882.6V910.2M2037.4 887.0V910.9M2084.3 885.8V906.7M2085.1 877.8V909.9M2085.9 883.1V914.9M2108.6 894.7V923.9M2109.4 892.1V921.2M2110.2 887.5V920.4M2132.8 886.9V903.2M2133.6 882.6V906.9M2134.4 885.4V903.3M2157.9 899.6V911.2M2182.1 874.6V882.6M2182.1 899.6V906.9M2182.1 912.5V922.7M2206.4 896.0V906.9M2230.7 903.2V914.2M2254.9 892.3V897.2M2254.9 904.5V915.4M2279.2 877.8V886.3M2594.6 881.4V887.5" stroke="#984ea3" stroke-width="3" fill="none"/>
<path d="M481.3 538.6V582.9M482.3 540.1V588.6M483.3 538.8V590.2M484.3 531.5V583.5M485.3 539.1V585.6M486.3 539.4V592.2M484.2 589.8V601.9M505.6 544.0V590.8M506.6 537.6V593.1M507.6 541.0V592.7M508.6 543.9V587.2M509.6 546.7V596.3M510.6 545.9V587.0M529.8 543.6V586.5M530.8 541.0V581.2M531.8 538.7V591.5M532.8 536.4V583.1M533.8 540.5V586.9M534.8 542.9V583.8M532.7 522.3V537.6M554.1 546.6V576.5M555.1 538.2V585.0M556.1 542.5V587.3M557.1 535.9V581.7M558.1 538.0V582.2M559.1 547.2V576.9M578.3 532.2V569.4M579.3 529.8V568.3M580.3 532.6V566.3M581.3 526.7V574.0M582.3 534.1V568.8M583.3 534.4V569.9M579.6 572.8V589.0M602.6 537.2V574.5M603.6 523.8V581.7M604.6 527.5V578.1M605.6 531.6V583.0M606.6 527.0V585.4M607.6 534.1V576.9M626.9 530.9V566.5M627.9 527.2V570.1M628.9 530.4V567.1M629.9 529.9V569.3M630.9 533.0V574.0M631.9 533.8V565.7M627.4 572.8V600.7M651.1 534.0V575.1M652.1 539.2V584.2M653.1 540.1V576.1M654.1 536.8V582.8M655.1 538.6V578.9M656.1 543.1V578.7M653.2 518.9V535.2M675.4 537.7V578.9M676.4 536.7V578.8M677.4 535.6V582.3M678.4 536.1V578.8M679.4 535.9V587.3M680.4 532.8V575.6M678.3 588.6V608.0M699.7 525.6V567.0M700.7 530.7V573.6M701.7 522.1V570.2M702.7 520.6V569.2M703.7 524.5V570.3M704.7 531.0V576.4M700.2 578.9V593.4M700.2 597.0V612.1M723.9 531.9V587.0M724.9 523.5V592.1M725.9 528.9V600.7M726.9 535.0V587.6M727.9 531.9V596.2M728.9 530.6V593.6M726.8 623.7V637.1M772.4 543.2V594.3M773.4 548.7V591.2M774.4 551.6V595.7M775.4 544.9V595.3M776.4 548.8V600.7M777.4 549.5V592.9M775.3 521.8V538.8M796.7 532.3V572.9M797.7 540.2V580.8M798.7 533.7V581.6M799.7 540.4V580.1M800.7 540.1V574.2M801.7 538.9V583.2M800.4 489.1V504.4M821.0 535.9V585.8M822.0 546.9V591.8M823.0 543.9V597.0M824.0 544.7V587.0M825.0 539.1V586.9M826.0 541.8V585.6M845.2 548.6V577.4M846.2 546.9V585.0M847.2 543.6V586.9M848.2 538.8V588.1M849.2 546.0V584.9M850.2 544.5V577.8M869.5 546.6V584.9M870.5 541.8V589.0M871.5 537.5V595.1M872.5 534.7V589.4M873.5 542.1V591.1M874.5 543.4V589.3M893.8 536.9V577.4M894.8 541.7V573.8M895.8 544.6V582.5M896.8 538.8V578.3M897.8 544.9V579.0M898.8 544.2V573.5M918.0 543.7V580.1M919.0 547.9V580.7M920.0 546.0V587.3M921.0 546.3V585.4M922.0 551.3V581.7M923.0 549.3V581.3M942.3 540.3V574.9M943.3 532.0V578.4M944.3 533.5V583.0M945.3 540.1V581.2M946.3 537.7V584.2M947.3 543.1V578.2M966.5 537.6V581.0M967.5 541.5V592.2M968.5 543.0V589.5M969.5 543.8V584.6M970.5 545.3V589.9M971.5 547.2V582.0M990.8 533.1V574.4M991.8 531.2V581.3M992.8 528.6V574.3M993.8 537.0V573.7M994.8 537.3V575.9M995.8 535.8V572.2M1015.1 526.7V585.6M1016.1 534.6V596.3M1017.1 536.6V587.8M1018.1 529.9V589.2M1019.1 536.4V589.3M1020.1 535.1V580.4M1066.1 535.5V579.2M1088.6 535.8V575.0M1089.8 521.4V581.3M1090.9 528.5V584.0M1092.1 532.7V577.0M1112.9 532.3V574.8M1114.0 521.4V572.6M1115.2 524.6V567.2M1116.4 527.1V568.1M1113.2 576.8V593.0M1137.1 531.7V573.6M1138.3 532.1V586.9M1139.5 529.2V583.1M1140.6 526.8V576.0M1161.4 535.2V579.8M1162.5 522.7V578.6M1163.7 531.2V586.9M1164.9 527.8V573.3M1185.6 533.6V586.4M1186.8 535.8V587.1M1188.0 535.8V584.7M1189.1 538.9V594.2M1209.9 533.3V588.2M1211.1 529.1V578.3M1212.3 528.2V578.6M1213.4 521.4V580.2M1258.4 544.6V585.7M1259.6 542.3V579.8M1260.8 534.8V578.0M1261.9 544.9V575.0M1282.7 539.9V603.9M1283.8 543.9V594.1M1285.0 533.6V599.5M1286.2 545.4V592.4M1285.8 608.3V623.8M1307.0 528.7V575.7M1308.1 535.3V575.5M1309.3 533.0V578.7M1310.5 540.8V583.3M1331.2 549.9V589.8M1332.4 544.5V592.6M1333.6 538.9V586.0M1334.7 546.8V594.2M1355.5 539.7V579.8M1356.6 537.1V585.7M1357.8 539.2V582.0M1359.0 532.8V579.4M1379.7 546.5V577.0M1380.9 539.9V580.6M1382.1 539.3V579.5M1383.2 537.7V586.9M1404.0 528.5V565.5M1405.2 523.4V564.2M1406.4 531.7V571.9M1407.5 529.6V561.6M1428.3 536.3V574.9M1429.4 529.4V578.9M1430.6 532.6V573.4M1431.8 538.3V569.5M1452.5 530.4V574.1M1453.7 533.9V579.7M1454.9 536.1V580.4M1456.0 536.9V584.5M1476.8 543.3V567.6M1477.9 535.6V570.8M1479.1 534.1V570.5M1480.3 537.5V576.0M1501.1 523.4V559.4M1502.2 530.6V561.9M1503.4 529.6V566.6M1504.6 529.1V568.0M1525.3 523.8V561.1M1526.5 523.5V573.1M1527.7 517.8V566.7M1528.8 530.4V563.5M1549.6 532.5V575.8M1550.7 520.7V575.6M1551.9 523.1V580.9M1553.1 531.3V571.6M1671.8 542.5V581.4M1672.6 548.6V576.5M1673.4 548.2V577.3M1696.1 543.3V575.0M1696.9 548.0V583.3M1697.7 550.2V579.8M1720.4 543.7V579.2M1721.2 543.8V574.0M1722.0 538.4V574.9M1744.6 549.5V586.2M1745.4 544.7V579.5M1746.2 543.3V581.3M1768.9 542.1V581.4M1769.7 537.2V573.9M1770.5 543.0V576.1M1770.3 523.4V535.3M1793.1 547.9V584.0M1793.9 544.5V582.8M1794.7 548.2V580.5M1817.4 536.5V567.2M1818.2 539.7V570.4M1819.0 540.2V564.3M1818.2 523.4V534.1M1890.2 538.0V565.2M1891.0 538.7V574.3M1891.8 532.8V568.0M1963.0 533.6V562.3M1963.8 537.3V562.9M1964.6 536.6V568.8M1987.2 541.6V574.3M1988.0 543.3V569.0M1988.8 545.5V570.9M2011.5 539.5V558.8M2012.3 534.3V562.2M2013.1 536.5V559.6M2035.8 539.6V565.7M2036.6 532.5V573.1M2037.4 530.7V569.0M2084.3 539.4V569.2M2085.1 532.8V566.6M2085.9 540.5V560.9M2108.6 541.6V567.9M2109.4 532.8V569.9M2110.2 540.7V577.2M2132.8 553.5V573.0M2133.6 553.0V575.4M2134.4 550.6V577.2M2157.9 546.9V569.2M2182.1 553.0V568.0M2182.1 572.9V583.3M2206.4 554.7V573.1M2230.7 556.6V583.3M2254.9 556.6V571.2M2279.2 559.8V569.2M2594.6 549.8V560.3" stroke="#ff7f00" stroke-width="3" fill="none"/>
<path d="M481.3 323.9V375.0M482.3 325.6V380.7M483.3 314.7V370.2M484.3 318.3V378.4M485.3 321.6V375.6M486.3 325.5V374.9M485.0 378.3V392.4M505.6 323.2V379.2M506.6 326.6V390.4M507.6 325.2V386.7M508.6 330.3V387.6M509.6 330.2V382.2M510.6 334.4V379.4M529.8 335.6V380.4M530.8 334.0V390.4M531.8 337.6V383.9M532.8 336.8V384.5M533.8 337.1V380.8M534.8 329.8V377.2M554.1 328.3V379.7M555.1 331.1V383.2M556.1 320.5V386.8M557.1 325.4V380.8M558.1 329.4V383.3M559.1 330.9V379.8M556.2 389.7V400.1M578.3 332.6V371.7M579.3 323.7V377.8M580.3 332.4V376.6M581.3 328.2V385.6M582.3 330.9V375.6M583.3 329.3V379.8M602.6 339.2V383.7M603.6 337.1V383.8M604.6 327.8V381.6M605.6 333.3V389.2M606.6 338.5V383.5M607.6 341.4V381.0M626.9 324.3V394.1M627.9 318.6V381.5M628.9 318.3V380.9M629.9 319.6V390.2M630.9 311.6V387.2M631.9 319.9V382.1M651.1 330.0V374.9M652.1 326.7V384.8M653.1 320.1V392.4M654.1 319.2V383.1M655.1 315.7V379.6M656.1 323.9V383.0M675.4 329.0V376.3M676.4 317.6V384.2M677.4 328.4V376.8M678.4 326.2V388.5M679.4 325.4V376.3M680.4 333.4V375.6M679.1 299.4V312.1M678.3 402.6V415.2M678.3 438.5V455.4M699.7 324.1V369.4M700.7 321.3V377.0M701.7 321.5V377.3M702.7 318.1V380.2M703.7 320.7V376.2M704.7 324.0V371.9M700.2 300.7V314.0M700.2 402.6V416.4M723.9 335.7V375.5M724.9 327.8V378.0M725.9 333.2V383.3M726.9 333.3V375.8M727.9 334.4V385.6M728.9 333.7V374.5M728.4 384.4V398.2M772.4 342.4V383.5M773.4 332.9V378.7M774.4 330.3V387.1M775.4 336.4V389.7M776.4 337.4V378.5M777.4 342.7V378.7M774.5 307.9V323.0M796.7 343.5V373.8M797.7 336.9V374.3M798.7 338.0V380.0M799.7 338.7V373.4M800.7 333.4V376.7M801.7 338.8V373.5M798.0 266.7V286.1M798.0 305.5V335.8M821.0 332.4V383.7M822.0 326.7V383.7M823.0 327.7V380.9M824.0 334.6V389.2M825.0 323.7V376.8M826.0 338.3V380.4M822.3 313.5V324.9M821.5 388.5V400.1M845.2 328.3V381.6M846.2 320.8V377.1M847.2 331.0V382.8M848.2 329.0V389.2M849.2 324.5V379.6M850.2 335.6V375.7M869.5 336.3V377.9M870.5 322.5V383.7M871.5 333.1V378.8M872.5 328.4V387.3M873.5 326.0V383.0M874.5 337.3V381.8M893.8 341.0V384.1M894.8 338.8V378.8M895.8 336.0V385.8M896.8 335.0V390.4M897.8 328.6V378.8M898.8 339.5V380.6M918.0 336.2V375.9M919.0 322.5V379.7M920.0 325.7V376.6M921.0 330.7V382.4M922.0 329.9V372.4M923.0 327.8V371.0M942.3 332.6V365.6M943.3 329.3V367.5M944.3 328.9V371.6M945.3 323.7V375.7M946.3 329.4V373.4M947.3 328.0V377.1M943.6 384.8V396.0M966.5 342.9V377.7M967.5 334.6V375.5M968.5 339.5V377.9M969.5 341.3V382.4M970.5 337.0V379.1M971.5 338.7V377.9M990.8 334.9V377.4M991.8 332.9V384.9M992.8 340.0V383.6M993.8 329.8V386.5M994.8 336.9V390.4M995.8 339.2V383.3M1015.1 336.3V368.9M1016.1 327.8V375.0M1017.1 328.6V381.2M1018.1 327.7V374.1M1019.1 323.7V377.0M1020.1 330.9V375.5M1066.1 319.6V383.1M1088.6 321.1V369.4M1089.8 323.9V374.3M1090.9 315.7V381.4M1092.1 330.6V367.6M1112.9 328.5V377.8M1114.0 324.4V385.7M1115.2 318.4V377.9M1116.4 332.6V389.2M1137.1 317.6V370.3M1138.3 322.0V385.1M1139.5 323.3V380.8M1140.6 325.0V378.5M1161.4 323.7V381.2M1162.5 331.2V375.8M1163.7 331.0V375.7M1164.9 333.3V372.5M1185.6 332.7V371.5M1186.8 325.8V378.5M1188.0 330.7V386.3M1189.1 321.8V377.3M1209.9 329.4V373.8M1211.1 331.6V375.9M1212.3 323.7V386.3M1213.4 336.6V373.2M1258.4 332.7V377.2M1259.6 323.3V383.7M1260.8 320.5V389.8M1261.9 328.3V394.1M1282.7 340.6V385.0M1283.8 326.6V395.3M1285.0 337.7V384.5M1286.2 332.6V385.9M1285.8 417.6V432.4M1307.0 317.6V369.4M1308.1 320.1V371.6M1309.3 326.3V370.2M1310.5 326.3V376.4M1331.2 333.1V372.7M1332.4 324.0V378.4M1333.6 327.5V385.1M1334.7 317.6V372.8M1333.5 385.6V397.2M1355.5 334.6V373.8M1356.6 333.1V383.1M1357.8 330.9V381.6M1359.0 324.4V373.2M1379.7 331.5V367.7M1380.9 323.2V369.1M1382.1 319.6V374.2M1383.2 324.7V368.8M1404.0 330.6V365.9M1405.2 322.6V375.1M1406.4 317.6V377.1M1407.5 326.2V366.9M1428.3 334.9V371.8M1429.4 331.1V376.6M1430.6 328.6V383.1M1431.8 337.7V378.3M1452.5 338.8V379.7M1453.7 326.6V380.1M1454.9 331.8V385.1M1456.0 336.9V373.5M1476.8 337.0V366.7M1477.9 340.4V367.0M1479.1 339.0V372.1M1480.3 342.1V373.4M1477.1 320.5V332.2M1501.1 343.1V379.1M1502.2 336.6V383.1M1503.4 343.2V376.5M1504.6 341.1V377.9M1525.3 341.9V388.5M1526.5 348.4V383.3M1527.7 343.5V382.5M1528.8 350.6V381.4M1525.7 390.4V400.9M1549.6 349.8V382.4M1550.7 345.6V394.1M1551.9 341.0V388.0M1553.1 336.6V380.9M1671.8 351.6V380.6M1672.6 352.5V380.2M1673.4 355.8V385.1M1672.6 336.6V344.8M1696.1 333.2V377.0M1696.9 326.6V386.3M1697.7 338.3V375.3M1720.4 331.6V358.6M1721.2 328.8V367.4M1722.0 325.4V363.3M1721.8 371.7V380.2M1744.6 338.3V378.9M1745.4 345.6V380.9M1746.2 349.1V387.3M1768.9 329.8V375.1M1769.7 323.7V373.9M1770.5 328.4V364.9M1793.1 320.8V367.9M1793.9 326.8V361.8M1794.7 327.0V357.5M1817.4 332.7V376.4M1818.2 337.8V370.0M1819.0 337.9V371.8M1890.2 334.6V365.2M1891.0 336.7V369.1M1891.8 338.2V361.2M1963.0 339.1V374.2M1963.8 331.7V370.5M1964.6 335.7V365.0M1987.2 337.1V375.6M1988.0 332.7V377.8M1988.8 340.6V382.4M2011.5 353.7V373.9M2012.3 349.9V370.2M2013.1 355.1V368.8M2035.8 342.5V364.4M2036.6 334.6V370.3M2037.4 342.7V365.7M2085.1 339.5V348.5M2085.1 351.1V383.1M2108.6 327.8V362.5M2109.4 334.2V366.2M2110.2 332.5V361.2M2110.0 372.2V386.3M2132.8 343.4V382.4M2133.6 340.0V380.7M2134.4 337.8V374.6M2157.9 340.7V349.7M2157.9 352.1V378.3M2182.1 345.5V354.0M2182.1 362.0V372.2M2182.1 377.8V386.3M2206.4 332.7V359.4M2230.7 337.8V357.2M2254.9 346.3V366.2M2279.2 344.3V353.3M2594.6 348.5V357.2" stroke="#ffff33" stroke-width="3" fill="none"/>
<path d="M481.3 830.6V876.8M482.3 836.5V878.6M483.3 827.2V887.2M484.3 827.3V888.9M485.3 824.7V879.9M486.3 836.3V890.7M505.6 825.9V884.9M506.6 828.7V887.2M507.6 834.9V880.7M508.6 827.4V885.6M509.6 833.5V891.9M510.6 833.0V881.7M529.8 848.3V893.1M530.8 842.3V899.7M531.8 841.1V897.9M532.8 840.9V893.0M533.8 845.0V892.5M534.8 833.7V891.2M554.1 835.8V885.6M555.1 831.4V881.8M556.1 827.6V883.4M557.1 833.7V892.0M558.1 838.8V886.5M559.1 835.1V893.6M578.3 836.2V881.0M579.3 833.2V883.0M580.3 837.1V889.1M581.3 826.4V892.4M582.3 833.0V884.8M583.3 841.3V886.7M602.6 844.0V886.5M603.6 840.9V894.6M604.6 836.9V893.0M605.6 832.5V898.5M606.6 845.0V886.2M607.6 842.3V891.5M626.9 838.3V886.8M627.9 838.5V888.6M628.9 831.4V887.6M629.9 826.9V892.9M630.9 832.8V880.8M631.9 837.4V884.2M651.1 839.1V894.3M652.1 833.4V890.2M653.1 834.7V892.3M654.1 834.4V891.4M655.1 835.9V886.7M656.1 828.3V880.5M675.4 847.8V893.3M676.4 848.2V899.0M677.4 837.8V903.8M678.4 844.8V894.1M679.4 843.4V892.9M680.4 847.1V893.5M699.7 843.3V883.3M700.7 834.8V894.1M701.7 839.0V889.6M702.7 834.4V889.2M703.7 842.6V890.3M704.7 831.2V897.2M723.9 844.6V904.5M724.9 850.1V895.6M725.9 844.2V903.0M726.9 846.6V893.3M727.9 838.5V899.6M728.9 845.0V894.6M772.4 842.8V900.4M773.4 844.4V893.0M774.4 837.5V889.4M775.4 837.0V889.5M776.4 834.4V889.7M777.4 844.4V887.4M796.7 829.5V882.2M797.7 840.9V887.1M798.7 833.7V895.5M799.7 839.0V887.3M800.7 841.3V889.4M801.7 835.7V884.8M821.0 843.3V889.2M822.0 840.3V894.2M823.0 832.5V887.1M824.0 837.6V895.9M825.0 841.5V898.5M826.0 839.3V887.3M845.2 842.4V892.7M846.2 845.4V893.9M847.2 840.3V891.4M848.2 844.1V891.1M849.2 833.2V892.0M850.2 840.0V899.2M869.5 848.2V886.6M870.5 846.5V900.9M871.5 845.4V891.5M872.5 834.9V891.2M873.5 838.4V892.0M874.5 843.9V888.2M893.8 836.8V896.0M894.8 839.0V885.5M895.8 840.7V889.0M896.8 830.0V893.4M897.8 840.3V883.7M898.8 839.6V888.2M918.0 843.4V891.2M919.0 838.0V890.4M920.0 841.7V889.7M921.0 840.4V895.7M922.0 833.2V889.2M923.0 842.5V899.2M942.3 833.7V874.6M943.3 828.4V884.9M944.3 831.5V882.9M945.3 824.5V888.8M946.3 826.8V883.6M947.3 822.8V877.3M966.5 846.3V892.8M967.5 844.6V887.6M968.5 839.0V894.0M969.5 843.5V899.7M970.5 833.7V887.6M971.5 846.6V891.0M990.8 834.9V900.9M991.8 846.7V892.0M992.8 842.6V891.4M993.8 836.7V898.4M994.8 838.8V898.0M995.8 842.5V895.2M1015.1 831.5V879.2M1016.1 826.7V882.6M1017.1 828.1V882.3M1018.1 828.8V887.5M1019.1 821.5V876.3M1020.1 829.2V876.7M582.8 814.3V826.4M678.3 806.5V824.0M798.8 774.2V792.4M825.5 818.6V831.7M1066.1 834.9V900.9M1088.6 836.1V896.7M1089.8 846.4V893.2M1090.9 844.1V902.1M1092.1 844.9V895.2M1112.9 829.3V888.0M1114.0 833.6V893.3M1115.2 840.1V895.3M1116.4 843.9V880.3M1137.1 841.4V899.7M1138.3 833.7V896.9M1139.5 841.3V896.6M1140.6 840.9V889.9M1161.4 846.2V904.5M1162.5 838.5V902.7M1163.7 844.9V898.8M1164.9 853.1V889.7M1185.6 832.9V898.9M1186.8 839.3V890.5M1188.0 840.3V895.1M1189.1 840.1V888.6M1209.9 839.0V893.6M1211.1 836.6V899.7M1212.3 833.7V892.7M1213.4 843.5V890.4M1258.4 832.0V882.2M1259.6 829.8V888.0M1260.8 828.0V890.0M1261.9 824.0V881.4M1282.7 828.8V882.1M1283.8 839.4V894.8M1285.0 834.9V891.9M1286.2 843.5V883.5M1307.0 824.7V880.4M1308.1 835.2V879.8M1309.3 830.9V880.0M1310.5 832.5V890.7M1331.2 842.7V894.9M1332.4 838.4V890.1M1333.6 835.6V901.6M1334.7 846.5V894.1M1355.5 844.8V883.9M1356.6 830.8V896.8M1357.8 841.4V892.4M1359.0 836.1V890.5M1379.7 835.6V901.6M1380.9 839.5V893.8M1382.1 847.3V890.6M1383.2 844.6V895.7M1404.0 842.8V887.0M1405.2 842.3V898.5M1406.4 832.5V889.9M1407.5 838.1V886.8M1428.3 847.9V888.2M1429.4 842.6V894.3M1430.6 836.8V902.8M1431.8 844.4V892.8M1452.5 843.7V889.0M1453.7 839.3V895.3M1454.9 833.7V895.2M1456.0 843.1V899.7M1476.8 843.8V901.6M1477.9 846.0V895.7M1479.1 835.6V891.4M1480.3 848.9V889.9M1501.1 834.9V892.4M1502.2 845.8V894.7M1503.4 840.0V891.6M1504.6 849.6V900.9M1525.3 825.7V880.3M1526.5 833.8V891.7M1527.7 831.9V886.6M1528.8 836.3V883.0M1549.6 838.5V893.3M1550.7 844.4V904.5M1551.9 840.6V894.8M1553.1 852.1V898.4M1090.8 812.6V831.7M1162.7 821.5V838.5M1671.8 838.1V855.0M1672.6 837.3V856.4M1673.4 836.0V858.4M1696.1 832.4V872.9M1696.9 834.7V866.9M1697.7 837.1V866.1M1720.4 841.8V869.9M1721.2 838.5V875.4M1722.0 846.2V877.8M1744.6 838.5V877.8M1745.4 842.8V875.9M1746.2 845.1V871.9M1768.9 844.5V876.6M1769.7 836.5V871.2M1770.5 842.4V867.4M1793.1 839.4V874.6M1793.9 840.2V879.0M1794.7 843.1V873.6M1817.4 842.1V876.7M1818.2 834.6V882.6M1819.0 845.5V877.6M1890.2 847.3V868.8M1891.0 847.1V871.4M1891.8 842.6V872.9M1963.0 839.4V869.2M1963.8 831.7V875.1M1964.6 841.7V876.6M1987.2 841.4V872.0M1988.0 843.9V877.8M1988.8 848.9V873.0M2011.5 850.6V880.2M2012.3 842.1V878.5M2013.1 848.9V873.3M2035.8 845.4V869.2M2036.6 840.9V872.9M2037.4 847.4V868.6M2037.2 824.9V836.5M2084.3 844.5V882.6M2085.1 847.1V879.6M2085.9 847.8V876.5M2108.6 841.4V861.3M2109.4 844.4V864.2M2110.2 845.7V865.6M2132.8 847.6V885.0M2133.6 842.3V880.5M2134.4 839.4V876.4M2157.9 851.1V870.5M2182.1 850.6V868.1M2206.4 845.5V859.1M2230.7 841.4V862.7M2230.7 871.7V881.9M2254.9 839.4V849.9M2254.9 854.7V865.2M2279.2 865.6V875.8M2594.6 860.3V872.2" stroke="#a65628" stroke-width="3" fill="none"/>
<path d="M481.3 1150.8V1211.1M482.3 1147.6V1206.8M483.3 1149.6V1207.3M484.3 1151.6V1202.0M485.3 1141.5V1203.3M486.3 1156.8V1202.3M505.6 1145.1V1192.8M506.6 1140.3V1188.9M507.6 1135.2V1192.6M508.6 1143.7V1197.3M509.6 1141.6V1200.2M510.6 1150.0V1191.5M509.3 1199.0V1223.2M529.8 1154.2V1197.2M530.8 1140.3V1205.4M531.8 1147.5V1203.2M532.8 1147.5V1206.0M533.8 1136.6V1215.2M534.8 1146.2V1199.6M554.1 1140.4V1183.6M555.1 1134.7V1191.7M556.1 1144.2V1194.0M557.1 1144.4V1189.6M558.1 1140.5V1188.5M559.1 1146.1V1197.8M557.0 1196.6V1223.2M578.3 1154.1V1188.4M579.3 1152.7V1196.4M580.3 1144.6V1200.2M581.3 1148.7V1195.3M582.3 1141.5V1190.9M583.3 1154.4V1190.3M602.6 1148.9V1194.4M603.6 1136.6V1192.9M604.6 1147.6V1202.1M605.6 1140.0V1191.6M606.6 1145.1V1196.4M607.6 1145.3V1192.3M626.9 1153.7V1202.2M627.9 1152.0V1212.8M628.9 1142.3V1207.2M629.9 1146.9V1220.1M630.9 1149.4V1213.8M631.9 1138.3V1213.0M651.1 1154.1V1205.3M652.1 1146.6V1214.8M653.1 1142.1V1212.4M654.1 1137.6V1212.5M655.1 1141.7V1202.1M656.1 1150.4V1200.3M651.6 1225.7V1246.3M675.4 1156.6V1199.8M676.4 1145.6V1201.9M677.4 1149.3V1214.3M678.4 1154.9V1206.0M679.4 1152.6V1204.4M680.4 1154.6V1208.2M678.3 1125.5V1146.8M699.7 1138.3V1203.8M700.7 1145.9V1195.2M701.7 1142.3V1197.8M702.7 1139.9V1193.3M703.7 1146.6V1191.4M704.7 1144.1V1192.6M704.2 1202.6V1242.7M723.9 1138.8V1209.3M724.9 1136.1V1218.4M725.9 1130.6V1205.7M726.9 1138.1V1209.3M727.9 1142.0V1207.4M728.9 1146.2V1203.4M726.0 1248.7V1268.1M772.4 1152.3V1191.2M773.4 1141.5V1200.9M774.4 1148.9V1196.3M775.4 1148.0V1195.8M776.4 1149.3V1197.9M777.4 1151.4V1203.8M796.7 1157.9V1220.8M797.7 1157.9V1206.7M798.7 1145.6V1212.0M799.7 1151.8V1208.1M800.7 1159.3V1210.6M801.7 1153.0V1208.7M798.0 1125.7V1141.5M821.0 1143.6V1196.6M822.0 1146.1V1209.4M823.0 1146.1V1198.1M824.0 1145.1V1201.8M825.0 1134.7V1198.4M826.0 1145.6V1193.8M822.3 1211.8V1226.9M845.2 1157.3V1205.0M846.2 1146.9V1203.4M847.2 1143.4V1215.2M848.2 1143.3V1204.7M849.2 1154.7V1204.7M850.2 1141.5V1206.8M869.5 1158.5V1201.0M870.5 1153.6V1198.7M871.5 1146.2V1208.2M872.5 1144.4V1209.9M873.5 1150.6V1204.0M874.5 1153.8V1201.9M893.8 1161.8V1198.4M894.8 1154.5V1211.1M895.8 1156.1V1200.5M896.8 1147.3V1206.8M897.8 1150.8V1208.4M898.8 1160.8V1203.6M918.0 1140.2V1192.0M919.0 1131.8V1206.9M920.0 1125.5V1198.3M921.0 1136.8V1208.6M922.0 1139.0V1201.9M923.0 1137.9V1211.1M942.3 1148.1V1213.1M943.3 1156.4V1217.4M944.3 1141.5V1217.2M945.3 1152.0V1217.9M946.3 1146.8V1209.4M947.3 1148.9V1220.8M966.5 1156.0V1201.7M967.5 1158.3V1201.8M968.5 1150.6V1202.6M969.5 1148.8V1207.2M970.5 1155.5V1201.9M971.5 1147.3V1209.9M990.8 1141.5V1213.2M991.8 1156.2V1206.0M992.8 1149.5V1220.8M993.8 1145.9V1212.6M994.8 1152.3V1211.0M995.8 1159.6V1208.2M1015.1 1150.4V1229.3M1016.1 1155.3V1213.5M1017.1 1150.3V1223.5M1018.1 1138.3V1223.7M1019.1 1143.1V1224.9M1020.1 1152.5V1216.5M1066.1 1147.3V1204.6M1088.6 1147.8V1204.0M1089.8 1140.8V1218.4M1090.9 1147.0V1211.3M1092.1 1151.1V1204.1M1091.8 1217.2V1238.5M1112.9 1159.7V1207.4M1114.0 1143.7V1208.3M1115.2 1154.1V1214.0M1116.4 1157.0V1220.1M1137.1 1152.6V1214.4M1138.3 1148.5V1211.4M1139.5 1140.2V1212.1M1140.6 1137.8V1223.2M1161.4 1152.0V1200.1M1162.5 1145.3V1201.0M1163.7 1147.6V1213.5M1164.9 1139.5V1206.3M1185.6 1151.7V1210.3M1186.8 1156.4V1213.1M1188.0 1153.7V1220.3M1189.1 1165.3V1211.5M1188.8 1115.3V1152.9M1209.9 1138.8V1193.1M1211.1 1146.1V1194.1M1212.3 1140.7V1204.3M1213.4 1144.7V1191.1M1258.4 1135.9V1207.2M1259.6 1144.1V1203.5M1260.8 1142.7V1217.2M1261.9 1145.0V1201.7M1282.7 1142.4V1210.3M1283.8 1131.0V1220.3M1285.0 1146.5V1205.8M1286.2 1139.6V1211.3M1307.0 1132.7V1192.8M1308.1 1142.1V1200.2M1309.3 1138.5V1197.4M1310.5 1147.0V1187.2M1331.2 1135.8V1209.3M1332.4 1128.1V1214.5M1333.6 1140.0V1217.2M1334.7 1136.8V1207.9M1355.5 1155.5V1203.7M1356.6 1142.7V1217.2M1357.8 1155.6V1210.3M1359.0 1153.0V1208.4M1379.7 1153.6V1191.5M1380.9 1137.8V1203.8M1382.1 1141.6V1204.0M1383.2 1147.1V1207.5M1404.0 1137.1V1184.1M1405.2 1139.0V1189.3M1406.4 1145.5V1188.1M1407.5 1145.6V1194.6M1428.3 1151.7V1191.8M1429.4 1145.0V1189.4M1430.6 1143.2V1191.8M1431.8 1153.1V1197.3M1452.5 1134.0V1208.2M1453.7 1143.8V1204.1M1454.9 1140.2V1198.8M1456.0 1143.6V1196.9M1476.8 1161.2V1197.5M1477.9 1149.7V1200.2M1479.1 1156.5V1203.3M1480.3 1154.1V1194.4M1501.1 1151.9V1198.4M1502.2 1149.9V1204.4M1503.4 1139.5V1209.9M1504.6 1155.2V1195.2M1525.3 1140.0V1191.1M1526.5 1143.2V1194.4M1527.7 1147.2V1193.0M1528.8 1150.7V1203.3M1549.6 1147.3V1219.1M1550.7 1153.3V1207.7M1551.9 1155.8V1212.5M1553.1 1162.6V1204.7M1671.8 1145.3V1180.9M1672.6 1139.5V1189.3M1673.4 1148.5V1184.6M1696.1 1142.3V1171.0M1696.9 1138.3V1174.2M1697.7 1145.7V1167.2M1697.5 1202.6V1216.0M1720.4 1134.2V1174.9M1721.2 1140.5V1179.9M1722.0 1144.5V1185.2M1744.6 1152.1V1181.7M1745.4 1149.3V1187.3M1746.2 1147.3V1179.5M1768.9 1143.5V1182.2M1769.7 1141.7V1196.1M1770.5 1132.7V1182.2M1793.1 1152.5V1194.4M1793.9 1147.3V1192.8M1794.7 1156.9V1201.4M1817.4 1146.8V1181.9M1818.2 1139.5V1185.9M1819.0 1144.3V1189.3M1890.2 1140.8V1203.8M1891.0 1148.7V1200.6M1891.8 1147.8V1192.5M1963.0 1140.8V1187.9M1963.8 1148.4V1196.1M1964.6 1146.6V1183.6M1987.2 1138.8V1175.0M1988.0 1139.8V1181.3M1988.8 1144.8V1171.8M2011.5 1142.5V1184.4M2012.3 1131.5V1181.5M2013.1 1138.2V1176.3M2035.8 1160.1V1208.2M2036.6 1149.7V1201.7M2037.4 1163.1V1201.7M2084.3 1156.8V1181.5M2085.1 1154.6V1177.5M2085.9 1158.7V1177.4M2085.1 1130.6V1149.2M2108.6 1147.5V1187.8M2109.4 1155.1V1188.4M2110.2 1154.1V1193.6M2132.8 1159.3V1200.9M2133.6 1150.5V1199.6M2134.4 1159.1V1206.3M2157.9 1144.9V1179.6M2182.1 1171.6V1190.5M2206.4 1153.4V1172.3M2230.7 1144.9V1171.1M2254.9 1159.4V1175.2M2279.2 1147.3V1160.9M2594.6 1163.8V1177.1" stroke="#f781bf" stroke-width="3" fill="none"/>
<path d="M481.3 854.9V891.9M482.3 853.6V901.3M483.3 845.8V898.9M484.3 853.9V899.7M485.3 854.4V904.0M486.3 852.4V891.8M505.6 855.3V900.2M506.6 853.3V898.0M507.6 849.2V908.9M508.6 848.6V905.6M509.6 852.0V897.9M510.6 847.0V900.4M529.8 861.8V910.3M530.8 853.1V914.8M531.8 856.5V909.6M532.8 862.0V918.5M533.8 865.7V917.2M534.8 862.4V921.0M554.1 870.7V909.9M555.1 865.3V912.9M556.1 866.3V912.8M557.1 868.5V907.6M558.1 865.8V910.6M559.1 861.6V916.2M578.3 873.3V912.1M579.3 868.8V912.7M580.3 868.3V916.2M581.3 860.4V914.2M582.3 863.3V913.8M583.3 868.5V918.6M602.6 863.6V904.5M603.6 860.6V902.7M604.6 862.0V911.3M605.6 851.9V902.8M606.6 861.5V905.6M607.6 862.5V903.7M626.9 856.4V901.1M627.9 857.6V913.7M628.9 855.5V906.5M629.9 852.7V909.1M630.9 844.6V908.6M631.9 850.9V899.5M651.1 871.6V922.2M652.1 866.0V910.5M653.1 866.5V916.3M654.1 870.1V920.5M655.1 860.4V913.9M656.1 868.5V909.3M675.4 857.1V914.3M676.4 848.2V921.9M677.4 855.4V918.1M678.4 843.4V923.3M679.4 853.0V925.9M680.4 854.6V917.4M699.7 864.5V928.3M700.7 856.6V916.6M701.7 854.9V925.7M702.7 858.2V919.4M703.7 848.2V917.0M704.7 856.5V912.6M723.9 844.2V916.7M724.9 826.4V920.6M725.9 837.7V925.9M726.9 833.6V917.4M727.9 830.8V912.1M728.9 821.5V904.5M772.4 861.8V900.8M773.4 859.0V905.0M774.4 853.1V904.2M775.4 861.8V909.8M776.4 855.6V913.7M777.4 861.8V903.5M796.7 866.4V909.1M797.7 862.2V905.3M798.7 863.9V916.2M799.7 860.1V909.3M800.7 854.3V911.8M801.7 860.9V904.7M821.0 856.8V914.8M822.0 853.5V921.0M823.0 850.8V918.8M824.0 855.9V909.9M825.0 848.2V907.6M826.0 864.0V914.5M845.2 856.7V905.8M846.2 860.5V910.1M847.2 862.6V905.4M848.2 863.1V905.1M849.2 861.9V904.8M850.2 864.0V902.8M869.5 857.6V889.5M870.5 850.2V891.6M871.5 850.0V895.4M872.5 847.0V893.4M873.5 855.1V896.8M874.5 851.8V889.4M893.8 864.3V899.6M894.8 867.6V902.9M895.8 864.3V906.5M896.8 861.5V899.9M897.8 859.1V903.1M898.8 863.5V902.1M918.0 860.6V904.0M919.0 861.9V902.0M920.0 855.5V899.7M921.0 860.3V902.1M922.0 862.7V896.1M923.0 865.7V897.8M942.3 865.7V910.1M943.3 858.8V903.8M944.3 855.5V906.6M945.3 857.7V905.6M946.3 858.9V903.0M947.3 866.9V904.5M966.5 852.8V898.7M967.5 852.1V899.0M968.5 851.2V897.2M969.5 851.4V899.3M970.5 853.9V893.4M971.5 848.2V904.0M990.8 856.1V912.4M991.8 851.1V911.9M992.8 858.0V912.6M993.8 847.0V912.1M994.8 852.3V921.0M995.8 858.1V909.0M1015.1 859.1V898.7M1016.1 866.9V906.8M1017.1 862.9V906.3M1018.1 865.4V904.2M1019.1 867.8V910.1M1020.1 867.2V900.4M578.8 918.6V931.9M627.4 927.1V945.3M726.8 938.5V955.0M800.4 916.2V938.0M873.2 896.8V918.1M1066.1 877.3V935.6M1088.6 860.4V901.4M1089.8 865.6V912.5M1090.9 864.4V908.6M1092.1 871.6V900.7M1112.9 847.0V918.2M1114.0 856.1V913.9M1115.2 859.5V920.8M1116.4 860.1V927.1M1137.1 859.4V907.3M1138.3 854.9V908.2M1139.5 856.9V904.1M1140.6 848.2V913.7M1161.4 850.0V907.3M1162.5 842.2V910.1M1163.7 844.4V923.4M1164.9 855.4V906.9M1185.6 844.6V908.9M1186.8 854.5V906.2M1188.0 849.9V904.2M1189.1 857.1V902.3M1209.9 865.3V909.8M1211.1 855.5V917.4M1212.3 860.8V922.2M1213.4 861.8V912.5M1258.4 866.9V913.5M1259.6 867.7V918.6M1260.8 869.9V908.9M1261.9 860.4V907.1M1282.7 878.9V922.2M1283.8 870.1V920.3M1285.0 872.0V920.7M1286.2 877.1V916.9M1307.0 857.9V895.7M1308.1 861.1V904.0M1309.3 860.5V896.5M1310.5 862.7V895.8M1331.2 865.9V901.0M1332.4 861.3V905.7M1333.6 859.1V908.9M1334.7 866.0V899.2M1355.5 869.9V901.7M1356.6 860.9V908.9M1357.8 862.5V904.2M1359.0 859.1V902.4M1379.7 862.8V896.8M1380.9 854.3V893.8M1382.1 860.5V895.2M1383.2 862.2V890.3M1404.0 869.4V908.2M1405.2 865.2V915.7M1406.4 873.0V912.2M1407.5 876.6V905.3M1428.3 859.2V904.0M1429.4 858.5V902.4M1430.6 851.9V901.4M1431.8 862.5V899.9M1452.5 865.3V901.1M1453.7 853.1V907.7M1454.9 855.0V898.7M1456.0 858.3V903.2M1476.8 860.4V900.8M1477.9 858.0V907.7M1479.1 854.3V905.3M1480.3 864.6V911.3M1501.1 859.4V890.6M1502.2 850.7V890.2M1503.4 852.8V896.8M1504.6 855.8V891.2M1525.3 871.6V899.5M1526.5 862.8V910.1M1527.7 866.2V907.0M1528.8 872.4V902.0M1549.6 866.1V901.0M1550.7 859.1V905.2M1551.9 865.6V897.9M1553.1 865.1V895.1M1671.8 837.0V875.2M1672.6 841.9V885.0M1673.4 845.4V880.3M1696.1 858.4V893.5M1696.9 864.8V897.2M1697.7 864.2V889.2M1720.4 870.1V903.0M1721.2 869.0V906.9M1722.0 865.6V902.2M1744.6 868.2V900.5M1745.4 863.2V904.5M1746.2 867.5V897.5M1768.9 863.2V905.3M1769.7 864.9V912.9M1770.5 873.7V905.7M1793.1 871.0V904.2M1793.9 873.3V903.2M1794.7 866.8V910.5M1817.4 881.2V921.9M1818.2 877.0V920.5M1819.0 872.4V912.8M1890.2 863.7V893.8M1891.0 865.0V900.8M1891.8 871.5V897.6M1963.0 865.6V899.6M1963.8 866.8V896.4M1964.6 869.6V895.4M1987.2 871.8V903.2M1988.0 866.8V901.9M1988.8 871.0V900.3M2011.5 874.2V902.1M2012.3 870.5V902.7M2013.1 874.8V909.3M2035.8 870.8V900.8M2036.6 862.7V908.1M2037.4 870.6V899.0M2037.2 914.2V926.3M2084.3 877.4V895.5M2085.1 873.4V898.3M2085.9 876.3V900.8M2108.6 864.2V912.9M2109.4 853.5V906.6M2110.2 860.4V903.2M2132.8 876.6V912.9M2133.6 879.6V912.2M2134.4 880.9V907.4M2157.9 879.7V899.6M2182.1 879.0V902.5M2206.4 870.5V891.6M2230.7 881.9V903.2M2254.9 880.7V894.3M2279.2 885.0V896.0M2594.6 886.3V898.4" stroke="#999999" stroke-width="3" fill="none"/>
<rect x="375" y="216" width="2325" height="1102" fill="none" stroke="#000" stroke-width="2"/>
<path d="M808.9 1318V1325M1294.7 1318V1325M1780.5 1318V1325M2266.3 1318V1325M375 513.8H368M375 813.0H368M375 1112.2H368" stroke="#000" stroke-width="1.9" fill="none"/>
<text transform="translate(885.57,195.00) scale(1.0532,1.0429)" font-size="100">RMH-HMB144</text>
<text transform="translate(1605.47,192.72) scale(1.1313,1.0133)" font-size="100">comp.</text>
<text transform="translate(1946.63,194.92) scale(1.1238,1.0758)" font-size="100">stars</text>
<text transform="translate(1479.40,1575.97) scale(0.5952,1.3286)" font-size="100">J</text>
<text transform="translate(1515.30,1557.30) scale(1.0250,1.0580)" font-size="100">D</text>
<text transform="translate(143.94,1019.31) rotate(-90) scale(1.1457,1.0571)" font-size="100">Instr.</text>
<text transform="translate(143.16,736.73) rotate(-90) scale(1.1209,1.0400)" font-size="100">mag</text>
<text transform="translate(2292.35,1542.92) scale(1.1637,1.0847)" font-size="83.33">+2.458e6</text>
<text transform="translate(177.34,545.95) scale(1.1104,1.0508)" font-size="83.33">17.4</text>
<text transform="translate(177.29,844.93) scale(1.1176,1.0678)" font-size="83.33">17.6</text>
<text transform="translate(177.33,1143.92) scale(1.1111,1.0847)" font-size="83.33">17.8</text>
<text transform="translate(807.50,1399.50) rotate(-25) translate(-76.82,30.92) scale(1.1053,1.0847)" font-size="83.33">580</text>
<text transform="translate(1294.00,1397.50) rotate(-25) translate(-77.95,30.92) scale(1.1136,1.0847)" font-size="83.33">600</text>
<text transform="translate(1780.00,1397.50) rotate(-25) translate(-77.95,30.92) scale(1.1136,1.0847)" font-size="83.33">620</text>
<text transform="translate(2265.00,1397.50) rotate(-25) translate(-77.95,30.92) scale(1.1136,1.0847)" font-size="83.33">640</text>
<rect x="222.2" y="1677.3" width="2638.8" height="66.1" rx="5" ry="5" fill="#a6a6a6" stroke="#8a8a8a" stroke-width="1.8"/>
<rect x="218.2" y="1672.8" width="2638.8" height="66.1" rx="5" ry="5" fill="#fff" stroke="#ccc" stroke-width="1.9"/>
<path d="M271.5 1685.4V1722.5" stroke="#e41a1c" stroke-width="3"/><text transform="translate(339.19,1716.60) scale(1.1288,1.0962)" font-size="37.5">2030</text>
<path d="M546.3 1685.4V1722.5" stroke="#e41a1c" stroke-width="3"/><text transform="translate(614.25,1716.60) scale(1.1177,1.0962)" font-size="37.5">1063</text>
<path d="M822.5 1685.4V1722.5" stroke="#377eb8" stroke-width="3"/><text transform="translate(890.41,1716.60) scale(1.1304,1.0962)" font-size="37.5">1389</text>
<path d="M1097.4 1685.4V1722.5" stroke="#4daf4a" stroke-width="3"/><text transform="translate(1165.33,1716.60) scale(1.1220,1.0962)" font-size="37.5">10013</text>
<path d="M1396.5 1685.4V1722.5" stroke="#984ea3" stroke-width="3"/><text transform="translate(1465.09,1716.60) scale(1.1083,1.0962)" font-size="37.5">863</text>
<path d="M1648.3 1685.4V1722.5" stroke="#ff7f00" stroke-width="3"/><text transform="translate(1716.20,1716.60) scale(1.1320,1.0962)" font-size="37.5">10026</text>
<path d="M1947.5 1685.4V1722.5" stroke="#ffff33" stroke-width="3"/><text transform="translate(2015.69,1716.60) scale(1.1083,1.0962)" font-size="37.5">919</text>
<path d="M2199.5 1685.4V1722.5" stroke="#a65628" stroke-width="3"/><text transform="translate(2267.41,1716.60) scale(1.1304,1.0962)" font-size="37.5">1410</text>
<path d="M2474.4 1685.4V1722.5" stroke="#f781bf" stroke-width="3"/><text transform="translate(2542.09,1716.60) scale(1.1288,1.0962)" font-size="37.5">2359</text>
<path d="M2749.6 1685.4V1722.5" stroke="#999999" stroke-width="3"/><text transform="translate(2818.53,1716.30) scale(0.9909,1.0500)" font-size="37.5">K</text>
</svg></body></html>
